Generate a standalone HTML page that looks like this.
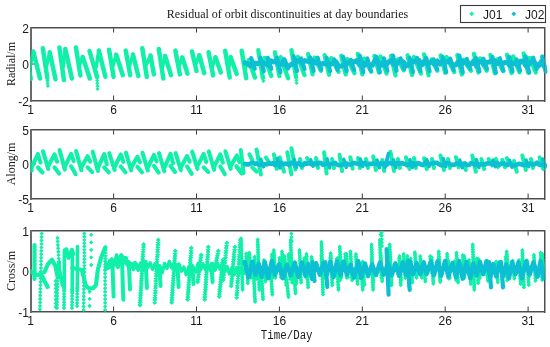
<!DOCTYPE html>
<html><head><meta charset="utf-8">
<style>
html,body{margin:0;padding:0;background:#fff;width:550px;height:347px;overflow:hidden}
svg{display:block}
.t{font-family:"Liberation Sans",Arial,sans-serif;font-size:12px;fill:#1a1a1a}
.s{font-family:"Liberation Serif","Times New Roman",serif;fill:#1a1a1a}
.m{font-family:"Liberation Mono","Courier New",monospace;fill:#1a1a1a}
</style></head><body>
<svg width="550" height="347" viewBox="0 0 550 347">
<rect width="550" height="347" fill="#fff"/>
<g shape-rendering="crispEdges">
<rect x="30" y="27" width="516" height="1" fill="#4d4d4d"/>
<rect x="32" y="28" width="512" height="1" fill="#a8a8a8"/>
<rect x="30" y="100" width="516" height="1" fill="#4d4d4d"/>
<rect x="32" y="101" width="514" height="1" fill="#a8a8a8"/>
<rect x="30" y="27" width="2" height="75" fill="#6a6a6a"/>
<rect x="544" y="27" width="1" height="75" fill="#4d4d4d"/>
<rect x="545" y="27" width="1" height="75" fill="#a8a8a8"/>
<rect x="30" y="129" width="516" height="1" fill="#4d4d4d"/>
<rect x="32" y="130" width="512" height="1" fill="#a8a8a8"/>
<rect x="30" y="198" width="516" height="1" fill="#4d4d4d"/>
<rect x="32" y="199" width="514" height="1" fill="#a8a8a8"/>
<rect x="30" y="129" width="2" height="71" fill="#6a6a6a"/>
<rect x="544" y="129" width="1" height="71" fill="#4d4d4d"/>
<rect x="545" y="129" width="1" height="71" fill="#a8a8a8"/>
<rect x="30" y="230" width="516" height="1" fill="#4d4d4d"/>
<rect x="32" y="231" width="512" height="1" fill="#a8a8a8"/>
<rect x="30" y="311" width="516" height="1" fill="#4d4d4d"/>
<rect x="32" y="312" width="514" height="1" fill="#a8a8a8"/>
<rect x="30" y="230" width="2" height="83" fill="#6a6a6a"/>
<rect x="544" y="230" width="1" height="83" fill="#4d4d4d"/>
<rect x="545" y="230" width="1" height="83" fill="#a8a8a8"/>
</g>
<g stroke="#3a3a3a" stroke-width="1" fill="none">
<path d="M113.6 100.5 V95.5M113.6 27.5 V32.5"/>
<path d="M196.5 100.5 V95.5M196.5 27.5 V32.5"/>
<path d="M279.4 100.5 V95.5M279.4 27.5 V32.5"/>
<path d="M362.3 100.5 V95.5M362.3 27.5 V32.5"/>
<path d="M445.2 100.5 V95.5M445.2 27.5 V32.5"/>
<path d="M528.1 100.5 V95.5M528.1 27.5 V32.5"/>
<path d="M31 64.0 H36M544 64.0 H539"/>
<path d="M113.6 198.5 V193.5M113.6 129.5 V134.5"/>
<path d="M196.5 198.5 V193.5M196.5 129.5 V134.5"/>
<path d="M279.4 198.5 V193.5M279.4 129.5 V134.5"/>
<path d="M362.3 198.5 V193.5M362.3 129.5 V134.5"/>
<path d="M445.2 198.5 V193.5M445.2 129.5 V134.5"/>
<path d="M528.1 198.5 V193.5M528.1 129.5 V134.5"/>
<path d="M31 164.0 H36M544 164.0 H539"/>
<path d="M113.6 311.5 V306.5M113.6 230.5 V235.5"/>
<path d="M196.5 311.5 V306.5M196.5 230.5 V235.5"/>
<path d="M279.4 311.5 V306.5M279.4 230.5 V235.5"/>
<path d="M362.3 311.5 V306.5M362.3 230.5 V235.5"/>
<path d="M445.2 311.5 V306.5M445.2 230.5 V235.5"/>
<path d="M528.1 311.5 V306.5M528.1 230.5 V235.5"/>
<path d="M31 271.0 H36M544 271.0 H539"/>
</g>
<g id="data"><defs><clipPath id="c1"><rect x="30" y="27" width="517.5" height="75"/></clipPath><clipPath id="c2"><rect x="30" y="129" width="517.5" height="71"/></clipPath><clipPath id="c3"><rect x="30" y="230" width="517.5" height="83"/></clipPath></defs>
<g clip-path="url(#c1)">
<polyline points="26.2,50.0 30.7,79.0" fill="none" stroke="#10f0a8" stroke-width="4.5" stroke-linejoin="round" stroke-linecap="round"/>
<polyline points="33.3,51.5 40.0,78.5" fill="none" stroke="#10f0a8" stroke-width="4.5" stroke-linejoin="round" stroke-linecap="round"/>
<polyline points="29.9,67.5 33.3,51.5" fill="none" stroke="#10f0a8" stroke-width="3.6" stroke-linejoin="round" stroke-linecap="round"/>
<polyline points="42.8,48.2 47.3,78.0" fill="none" stroke="#10f0a8" stroke-width="4.5" stroke-linejoin="round" stroke-linecap="round"/>
<polyline points="49.7,52.3 55.5,79.3" fill="none" stroke="#10f0a8" stroke-width="4.5" stroke-linejoin="round" stroke-linecap="round"/>
<polyline points="46.5,66.1 49.7,52.3" fill="none" stroke="#10f0a8" stroke-width="3.6" stroke-linejoin="round" stroke-linecap="round"/>
<path d="M47.0 70.9L49.1 73.0L47.0 75.1L44.9 73.0ZM47.2 73.5L49.3 75.6L47.2 77.7L45.1 75.6ZM47.3 76.1L49.4 78.2L47.3 80.3L45.2 78.2ZM47.5 78.7L49.6 80.8L47.5 82.9L45.4 80.8ZM47.7 81.3L49.8 83.4L47.7 85.5L45.6 83.4ZM47.9 83.9L50.0 86.0L47.9 88.1L45.8 86.0Z" fill="#10f0a8"/>
<polyline points="59.4,47.4 63.9,80.0" fill="none" stroke="#10f0a8" stroke-width="4.5" stroke-linejoin="round" stroke-linecap="round"/>
<polyline points="65.3,49.0 71.9,78.5" fill="none" stroke="#10f0a8" stroke-width="4.5" stroke-linejoin="round" stroke-linecap="round"/>
<polyline points="63.1,66.7 65.3,49.0" fill="none" stroke="#10f0a8" stroke-width="3.6" stroke-linejoin="round" stroke-linecap="round"/>
<polyline points="75.9,47.4 80.4,75.5" fill="none" stroke="#10f0a8" stroke-width="4.5" stroke-linejoin="round" stroke-linecap="round"/>
<polyline points="82.7,57.0 89.8,78.5" fill="none" stroke="#10f0a8" stroke-width="4.5" stroke-linejoin="round" stroke-linecap="round"/>
<polyline points="79.6,64.5 82.7,57.0" fill="none" stroke="#10f0a8" stroke-width="3.6" stroke-linejoin="round" stroke-linecap="round"/>
<polyline points="89.5,51.0 97.0,77.0" fill="none" stroke="#10f0a8" stroke-width="4.5" stroke-linejoin="round" stroke-linecap="round"/>
<polyline points="98.8,50.6 105.4,76.8" fill="none" stroke="#10f0a8" stroke-width="4.5" stroke-linejoin="round" stroke-linecap="round"/>
<polyline points="96.2,67.0 98.8,50.6" fill="none" stroke="#10f0a8" stroke-width="3.6" stroke-linejoin="round" stroke-linecap="round"/>
<path d="M96.7 69.9L98.8 72.0L96.7 74.1L94.6 72.0ZM96.9 72.7L99.0 74.8L96.9 76.9L94.8 74.8ZM97.0 75.6L99.1 77.7L97.0 79.8L94.9 77.7ZM97.2 78.4L99.3 80.5L97.2 82.6L95.1 80.5ZM97.3 81.2L99.4 83.3L97.3 85.4L95.2 83.3ZM97.5 84.1L99.6 86.2L97.5 88.3L95.4 86.2ZM97.6 86.9L99.7 89.0L97.6 91.1L95.5 89.0Z" fill="#10f0a8"/>
<polyline points="109.1,49.8 113.6,76.8" fill="none" stroke="#10f0a8" stroke-width="4.5" stroke-linejoin="round" stroke-linecap="round"/>
<polyline points="116.2,54.7 122.8,75.2" fill="none" stroke="#10f0a8" stroke-width="4.5" stroke-linejoin="round" stroke-linecap="round"/>
<polyline points="112.8,66.3 116.2,54.7" fill="none" stroke="#10f0a8" stroke-width="3.6" stroke-linejoin="round" stroke-linecap="round"/>
<polyline points="125.7,50.6 130.2,75.2" fill="none" stroke="#10f0a8" stroke-width="4.5" stroke-linejoin="round" stroke-linecap="round"/>
<polyline points="133.0,54.5 138.3,76.0" fill="none" stroke="#10f0a8" stroke-width="4.5" stroke-linejoin="round" stroke-linecap="round"/>
<polyline points="129.4,65.9 133.0,54.5" fill="none" stroke="#10f0a8" stroke-width="3.6" stroke-linejoin="round" stroke-linecap="round"/>
<polyline points="142.3,48.2 146.8,76.8" fill="none" stroke="#10f0a8" stroke-width="4.5" stroke-linejoin="round" stroke-linecap="round"/>
<polyline points="150.5,55.5 153.9,74.4" fill="none" stroke="#10f0a8" stroke-width="4.5" stroke-linejoin="round" stroke-linecap="round"/>
<polyline points="146.0,65.5 150.5,55.5" fill="none" stroke="#10f0a8" stroke-width="3.6" stroke-linejoin="round" stroke-linecap="round"/>
<polyline points="158.8,49.0 163.3,78.5" fill="none" stroke="#10f0a8" stroke-width="4.5" stroke-linejoin="round" stroke-linecap="round"/>
<polyline points="165.1,56.0 171.0,75.2" fill="none" stroke="#10f0a8" stroke-width="4.5" stroke-linejoin="round" stroke-linecap="round"/>
<polyline points="162.5,66.8 165.1,56.0" fill="none" stroke="#10f0a8" stroke-width="3.6" stroke-linejoin="round" stroke-linecap="round"/>
<polyline points="175.4,50.6 179.9,74.4" fill="none" stroke="#10f0a8" stroke-width="4.5" stroke-linejoin="round" stroke-linecap="round"/>
<polyline points="182.3,57.5 187.5,73.6" fill="none" stroke="#10f0a8" stroke-width="4.5" stroke-linejoin="round" stroke-linecap="round"/>
<polyline points="179.1,65.5 182.3,57.5" fill="none" stroke="#10f0a8" stroke-width="3.6" stroke-linejoin="round" stroke-linecap="round"/>
<polyline points="192.0,51.5 196.5,71.0" fill="none" stroke="#10f0a8" stroke-width="4.5" stroke-linejoin="round" stroke-linecap="round"/>
<polyline points="199.3,55.2 204.2,73.2" fill="none" stroke="#10f0a8" stroke-width="4.5" stroke-linejoin="round" stroke-linecap="round"/>
<polyline points="195.7,64.2 199.3,55.2" fill="none" stroke="#10f0a8" stroke-width="3.6" stroke-linejoin="round" stroke-linecap="round"/>
<polyline points="208.6,52.3 213.1,75.4" fill="none" stroke="#10f0a8" stroke-width="4.5" stroke-linejoin="round" stroke-linecap="round"/>
<polyline points="215.5,57.3 220.8,72.5" fill="none" stroke="#10f0a8" stroke-width="4.5" stroke-linejoin="round" stroke-linecap="round"/>
<polyline points="212.3,66.8 215.5,57.3" fill="none" stroke="#10f0a8" stroke-width="3.6" stroke-linejoin="round" stroke-linecap="round"/>
<polyline points="225.2,50.8 229.7,77.5" fill="none" stroke="#10f0a8" stroke-width="4.5" stroke-linejoin="round" stroke-linecap="round"/>
<polyline points="230.6,57.0 236.7,73.9" fill="none" stroke="#10f0a8" stroke-width="4.5" stroke-linejoin="round" stroke-linecap="round"/>
<polyline points="228.9,67.2 230.6,57.0" fill="none" stroke="#10f0a8" stroke-width="3.6" stroke-linejoin="round" stroke-linecap="round"/>
<polyline points="241.7,50.8 246.2,78.2" fill="none" stroke="#10f0a8" stroke-width="4.5" stroke-linejoin="round" stroke-linecap="round"/>
<polyline points="248.9,60.2 254.9,77.5" fill="none" stroke="#10f0a8" stroke-width="4.5" stroke-linejoin="round" stroke-linecap="round"/>
<polyline points="245.4,67.5 248.9,60.2" fill="none" stroke="#10f0a8" stroke-width="3.6" stroke-linejoin="round" stroke-linecap="round"/>
<polyline points="258.3,50.1 262.8,78.0" fill="none" stroke="#10f0a8" stroke-width="4.3" stroke-linejoin="round" stroke-linecap="round"/>
<polyline points="264.6,58.0 271.3,76.0" fill="none" stroke="#10f0a8" stroke-width="4.3" stroke-linejoin="round" stroke-linecap="round"/>
<polyline points="262.0,67.0 264.6,58.0" fill="none" stroke="#10f0a8" stroke-width="3.6" stroke-linejoin="round" stroke-linecap="round"/>
<path d="M262.5 70.9L264.6 73.0L262.5 75.1L260.4 73.0ZM262.8 73.6L264.9 75.7L262.8 77.8L260.7 75.7ZM263.1 76.2L265.2 78.3L263.1 80.4L261.0 78.3ZM263.4 78.9L265.5 81.0L263.4 83.1L261.3 81.0Z" fill="#10f0a8"/>
<polyline points="274.9,52.3 279.4,76.1" fill="none" stroke="#10f0a8" stroke-width="4.3" stroke-linejoin="round" stroke-linecap="round"/>
<polyline points="280.6,57.3 288.1,78.2" fill="none" stroke="#10f0a8" stroke-width="4.3" stroke-linejoin="round" stroke-linecap="round"/>
<polyline points="278.6,67.2 280.6,57.3" fill="none" stroke="#10f0a8" stroke-width="3.6" stroke-linejoin="round" stroke-linecap="round"/>
<polyline points="291.5,50.1 296.0,77.0" fill="none" stroke="#10f0a8" stroke-width="4.3" stroke-linejoin="round" stroke-linecap="round"/>
<polyline points="297.8,57.0 304.5,75.0" fill="none" stroke="#10f0a8" stroke-width="4.3" stroke-linejoin="round" stroke-linecap="round"/>
<polyline points="295.2,66.5 297.8,57.0" fill="none" stroke="#10f0a8" stroke-width="3.6" stroke-linejoin="round" stroke-linecap="round"/>
<path d="M295.7 69.9L297.8 72.0L295.7 74.1L293.6 72.0ZM295.9 72.7L298.0 74.8L295.9 76.8L293.8 74.8ZM296.1 75.4L298.2 77.5L296.1 79.6L294.0 77.5ZM296.4 78.2L298.5 80.2L296.4 82.3L294.3 80.2ZM296.6 80.9L298.7 83.0L296.6 85.1L294.5 83.0Z" fill="#10f0a8"/>
<polyline points="308.1,54.0 312.6,74.3" fill="none" stroke="#10f0a8" stroke-width="4.3" stroke-linejoin="round" stroke-linecap="round"/>
<polyline points="314.8,57.7 321.0,70.7" fill="none" stroke="#10f0a8" stroke-width="4.3" stroke-linejoin="round" stroke-linecap="round"/>
<polyline points="311.8,67.1 314.8,57.7" fill="none" stroke="#10f0a8" stroke-width="3.6" stroke-linejoin="round" stroke-linecap="round"/>
<polyline points="324.6,55.2 329.1,74.7" fill="none" stroke="#10f0a8" stroke-width="4.3" stroke-linejoin="round" stroke-linecap="round"/>
<polyline points="331.2,58.3 338.6,71.8" fill="none" stroke="#10f0a8" stroke-width="4.3" stroke-linejoin="round" stroke-linecap="round"/>
<polyline points="328.3,68.0 331.2,58.3" fill="none" stroke="#10f0a8" stroke-width="3.6" stroke-linejoin="round" stroke-linecap="round"/>
<polyline points="341.2,55.8 345.7,74.4" fill="none" stroke="#10f0a8" stroke-width="4.3" stroke-linejoin="round" stroke-linecap="round"/>
<polyline points="347.5,59.2 354.5,73.2" fill="none" stroke="#10f0a8" stroke-width="4.3" stroke-linejoin="round" stroke-linecap="round"/>
<polyline points="344.9,68.1 347.5,59.2" fill="none" stroke="#10f0a8" stroke-width="3.6" stroke-linejoin="round" stroke-linecap="round"/>
<polyline points="357.8,53.9 362.3,74.4" fill="none" stroke="#10f0a8" stroke-width="4.3" stroke-linejoin="round" stroke-linecap="round"/>
<polyline points="364.0,58.7 371.4,71.7" fill="none" stroke="#10f0a8" stroke-width="4.3" stroke-linejoin="round" stroke-linecap="round"/>
<polyline points="361.5,67.2 364.0,58.7" fill="none" stroke="#10f0a8" stroke-width="3.6" stroke-linejoin="round" stroke-linecap="round"/>
<polyline points="374.4,55.9 378.9,72.5" fill="none" stroke="#10f0a8" stroke-width="4.3" stroke-linejoin="round" stroke-linecap="round"/>
<polyline points="380.5,56.6 386.6,73.5" fill="none" stroke="#10f0a8" stroke-width="4.3" stroke-linejoin="round" stroke-linecap="round"/>
<polyline points="378.1,67.2 380.5,56.6" fill="none" stroke="#10f0a8" stroke-width="3.6" stroke-linejoin="round" stroke-linecap="round"/>
<polyline points="391.0,55.8 395.5,75.3" fill="none" stroke="#10f0a8" stroke-width="4.3" stroke-linejoin="round" stroke-linecap="round"/>
<polyline points="397.9,59.6 403.8,70.3" fill="none" stroke="#10f0a8" stroke-width="4.3" stroke-linejoin="round" stroke-linecap="round"/>
<polyline points="394.7,68.6 397.9,59.6" fill="none" stroke="#10f0a8" stroke-width="3.6" stroke-linejoin="round" stroke-linecap="round"/>
<polyline points="407.5,55.3 412.0,74.9" fill="none" stroke="#10f0a8" stroke-width="4.3" stroke-linejoin="round" stroke-linecap="round"/>
<polyline points="413.7,57.1 420.9,73.5" fill="none" stroke="#10f0a8" stroke-width="4.3" stroke-linejoin="round" stroke-linecap="round"/>
<polyline points="411.2,68.1 413.7,57.1" fill="none" stroke="#10f0a8" stroke-width="3.6" stroke-linejoin="round" stroke-linecap="round"/>
<polyline points="424.1,54.4 428.6,75.2" fill="none" stroke="#10f0a8" stroke-width="4.3" stroke-linejoin="round" stroke-linecap="round"/>
<polyline points="431.7,59.5 437.4,70.7" fill="none" stroke="#10f0a8" stroke-width="4.3" stroke-linejoin="round" stroke-linecap="round"/>
<polyline points="427.8,67.8 431.7,59.5" fill="none" stroke="#10f0a8" stroke-width="3.6" stroke-linejoin="round" stroke-linecap="round"/>
<polyline points="440.7,55.4 445.2,72.7" fill="none" stroke="#10f0a8" stroke-width="4.3" stroke-linejoin="round" stroke-linecap="round"/>
<polyline points="446.6,57.2 454.3,72.1" fill="none" stroke="#10f0a8" stroke-width="4.3" stroke-linejoin="round" stroke-linecap="round"/>
<polyline points="444.4,67.0 446.6,57.2" fill="none" stroke="#10f0a8" stroke-width="3.6" stroke-linejoin="round" stroke-linecap="round"/>
<polyline points="457.3,55.1 461.8,74.5" fill="none" stroke="#10f0a8" stroke-width="4.3" stroke-linejoin="round" stroke-linecap="round"/>
<polyline points="463.2,59.8 470.9,70.7" fill="none" stroke="#10f0a8" stroke-width="4.3" stroke-linejoin="round" stroke-linecap="round"/>
<polyline points="461.0,67.8 463.2,59.8" fill="none" stroke="#10f0a8" stroke-width="3.6" stroke-linejoin="round" stroke-linecap="round"/>
<polyline points="473.9,53.8 478.4,72.5" fill="none" stroke="#10f0a8" stroke-width="4.3" stroke-linejoin="round" stroke-linecap="round"/>
<polyline points="479.9,58.6 486.8,70.6" fill="none" stroke="#10f0a8" stroke-width="4.3" stroke-linejoin="round" stroke-linecap="round"/>
<polyline points="477.6,66.1 479.9,58.6" fill="none" stroke="#10f0a8" stroke-width="3.6" stroke-linejoin="round" stroke-linecap="round"/>
<polyline points="490.4,54.9 494.9,73.2" fill="none" stroke="#10f0a8" stroke-width="4.3" stroke-linejoin="round" stroke-linecap="round"/>
<polyline points="497.3,59.5 503.1,71.0" fill="none" stroke="#10f0a8" stroke-width="4.3" stroke-linejoin="round" stroke-linecap="round"/>
<polyline points="494.1,67.0 497.3,59.5" fill="none" stroke="#10f0a8" stroke-width="3.6" stroke-linejoin="round" stroke-linecap="round"/>
<polyline points="507.0,54.8 511.5,73.0" fill="none" stroke="#10f0a8" stroke-width="4.3" stroke-linejoin="round" stroke-linecap="round"/>
<polyline points="513.2,56.6 519.5,72.3" fill="none" stroke="#10f0a8" stroke-width="4.3" stroke-linejoin="round" stroke-linecap="round"/>
<polyline points="510.7,66.9 513.2,56.6" fill="none" stroke="#10f0a8" stroke-width="3.6" stroke-linejoin="round" stroke-linecap="round"/>
<polyline points="523.6,53.5 528.1,72.4" fill="none" stroke="#10f0a8" stroke-width="4.3" stroke-linejoin="round" stroke-linecap="round"/>
<polyline points="529.7,57.9 535.8,72.4" fill="none" stroke="#10f0a8" stroke-width="4.3" stroke-linejoin="round" stroke-linecap="round"/>
<polyline points="527.3,66.0 529.7,57.9" fill="none" stroke="#10f0a8" stroke-width="3.6" stroke-linejoin="round" stroke-linecap="round"/>
<polyline points="245.0,62.9 247.6,63.6 250.2,65.7 252.8,63.0 255.4,63.2 258.0,63.7 260.6,61.3 263.2,63.3 265.8,64.0 268.4,65.0 271.0,60.8 273.6,62.0 276.2,60.7 278.8,65.1 281.4,64.4 284.0,60.5 286.6,66.1 289.2,66.0 291.8,64.1 294.4,63.9 297.0,61.1 299.6,60.3 302.2,63.4 304.8,60.6 307.4,61.3 310.0,61.7 312.6,60.4 315.2,63.0 317.8,62.8 320.4,65.3 323.0,63.3 325.6,64.0 328.2,63.2 330.8,64.2 333.4,62.9 336.0,61.9 338.6,66.2 341.2,66.2 343.8,65.2 346.4,64.4 349.0,62.1 351.6,61.6 354.2,61.9 356.8,60.6 359.4,64.8 362.0,62.6 364.6,65.3 367.2,62.5 369.8,65.9 372.4,65.3 375.0,60.2 377.6,61.5 380.2,65.7 382.8,63.0 385.4,66.1 388.0,62.6 390.6,60.6 393.2,64.0 395.8,64.9 398.4,61.8 401.0,60.7 403.6,62.2 406.2,66.0 408.8,64.7 411.4,60.9 414.0,61.7 416.6,60.8 419.2,60.6 421.8,65.0 424.4,61.3 427.0,63.6 429.6,62.9 432.2,61.3 434.8,64.6 437.4,61.0 440.0,64.1 442.6,60.9 445.2,62.7 447.8,61.5 450.4,61.8 453.0,66.0 455.6,65.0 458.2,62.0 460.8,65.5 463.4,61.5 466.0,62.6 468.6,65.3 471.2,64.1 473.8,60.8 476.4,66.1 479.0,61.5 481.6,61.7 484.2,64.8 486.8,62.2 489.4,62.0 492.0,60.6 494.6,60.7 497.2,63.7 499.8,61.7 502.4,63.8 505.0,62.4 507.6,62.9 510.2,66.0 512.8,63.1 515.4,63.6 518.0,65.4 520.6,61.3 523.2,61.1 525.8,65.7 528.4,65.1 531.0,61.7 533.6,61.3 536.2,64.6 538.8,65.8 541.4,61.4 544.0,65.9" fill="none" stroke="#0cbfd2" stroke-width="5" stroke-linejoin="round" stroke-linecap="round"/>
<polyline points="251.2,58.1 254.7,68.7" fill="none" stroke="#0cbfd2" stroke-width="4.2" stroke-linejoin="round" stroke-linecap="round"/>
<polyline points="260.3,57.7 263.8,71.1" fill="none" stroke="#0cbfd2" stroke-width="4.2" stroke-linejoin="round" stroke-linecap="round"/>
<polyline points="267.8,57.8 271.3,68.8" fill="none" stroke="#0cbfd2" stroke-width="4.2" stroke-linejoin="round" stroke-linecap="round"/>
<polyline points="276.9,57.6 280.4,72.3" fill="none" stroke="#0cbfd2" stroke-width="4.2" stroke-linejoin="round" stroke-linecap="round"/>
<polyline points="284.4,59.3 287.9,68.5" fill="none" stroke="#0cbfd2" stroke-width="4.2" stroke-linejoin="round" stroke-linecap="round"/>
<polyline points="293.5,56.1 297.0,71.0" fill="none" stroke="#0cbfd2" stroke-width="4.2" stroke-linejoin="round" stroke-linecap="round"/>
<polyline points="301.0,58.5 304.5,68.9" fill="none" stroke="#0cbfd2" stroke-width="4.2" stroke-linejoin="round" stroke-linecap="round"/>
<polyline points="310.1,57.3 313.6,71.0" fill="none" stroke="#0cbfd2" stroke-width="4.2" stroke-linejoin="round" stroke-linecap="round"/>
<polyline points="317.6,57.7 321.1,69.4" fill="none" stroke="#0cbfd2" stroke-width="4.2" stroke-linejoin="round" stroke-linecap="round"/>
<polyline points="326.6,57.8 330.1,71.0" fill="none" stroke="#0cbfd2" stroke-width="4.2" stroke-linejoin="round" stroke-linecap="round"/>
<polyline points="334.1,59.5 337.6,69.8" fill="none" stroke="#0cbfd2" stroke-width="4.2" stroke-linejoin="round" stroke-linecap="round"/>
<polyline points="343.2,56.8 346.7,71.1" fill="none" stroke="#0cbfd2" stroke-width="4.2" stroke-linejoin="round" stroke-linecap="round"/>
<polyline points="350.7,59.9 354.2,70.1" fill="none" stroke="#0cbfd2" stroke-width="4.2" stroke-linejoin="round" stroke-linecap="round"/>
<polyline points="359.8,55.7 363.3,72.3" fill="none" stroke="#0cbfd2" stroke-width="4.2" stroke-linejoin="round" stroke-linecap="round"/>
<polyline points="367.3,58.5 370.8,70.8" fill="none" stroke="#0cbfd2" stroke-width="4.2" stroke-linejoin="round" stroke-linecap="round"/>
<polyline points="376.4,56.8 379.9,72.3" fill="none" stroke="#0cbfd2" stroke-width="4.2" stroke-linejoin="round" stroke-linecap="round"/>
<polyline points="383.9,58.3 387.4,70.8" fill="none" stroke="#0cbfd2" stroke-width="4.2" stroke-linejoin="round" stroke-linecap="round"/>
<polyline points="393.0,55.6 396.5,70.8" fill="none" stroke="#0cbfd2" stroke-width="4.2" stroke-linejoin="round" stroke-linecap="round"/>
<polyline points="400.5,58.5 404.0,68.8" fill="none" stroke="#0cbfd2" stroke-width="4.2" stroke-linejoin="round" stroke-linecap="round"/>
<polyline points="409.5,57.9 413.0,72.1" fill="none" stroke="#0cbfd2" stroke-width="4.2" stroke-linejoin="round" stroke-linecap="round"/>
<polyline points="417.0,57.9 420.5,70.9" fill="none" stroke="#0cbfd2" stroke-width="4.2" stroke-linejoin="round" stroke-linecap="round"/>
<polyline points="426.1,57.8 429.6,71.2" fill="none" stroke="#0cbfd2" stroke-width="4.2" stroke-linejoin="round" stroke-linecap="round"/>
<polyline points="433.6,59.5 437.1,69.3" fill="none" stroke="#0cbfd2" stroke-width="4.2" stroke-linejoin="round" stroke-linecap="round"/>
<polyline points="442.7,56.9 446.2,72.2" fill="none" stroke="#0cbfd2" stroke-width="4.2" stroke-linejoin="round" stroke-linecap="round"/>
<polyline points="450.2,58.6 453.7,70.1" fill="none" stroke="#0cbfd2" stroke-width="4.2" stroke-linejoin="round" stroke-linecap="round"/>
<polyline points="459.3,55.6 462.8,72.4" fill="none" stroke="#0cbfd2" stroke-width="4.2" stroke-linejoin="round" stroke-linecap="round"/>
<polyline points="466.8,58.9 470.3,68.7" fill="none" stroke="#0cbfd2" stroke-width="4.2" stroke-linejoin="round" stroke-linecap="round"/>
<polyline points="475.9,57.9 479.4,71.2" fill="none" stroke="#0cbfd2" stroke-width="4.2" stroke-linejoin="round" stroke-linecap="round"/>
<polyline points="483.4,58.8 486.9,68.8" fill="none" stroke="#0cbfd2" stroke-width="4.2" stroke-linejoin="round" stroke-linecap="round"/>
<polyline points="492.4,57.0 495.9,72.8" fill="none" stroke="#0cbfd2" stroke-width="4.2" stroke-linejoin="round" stroke-linecap="round"/>
<polyline points="499.9,58.2 503.4,70.7" fill="none" stroke="#0cbfd2" stroke-width="4.2" stroke-linejoin="round" stroke-linecap="round"/>
<polyline points="509.0,56.8 512.5,71.3" fill="none" stroke="#0cbfd2" stroke-width="4.2" stroke-linejoin="round" stroke-linecap="round"/>
<polyline points="516.5,59.4 520.0,70.5" fill="none" stroke="#0cbfd2" stroke-width="4.2" stroke-linejoin="round" stroke-linecap="round"/>
<polyline points="525.6,56.3 529.1,72.8" fill="none" stroke="#0cbfd2" stroke-width="4.2" stroke-linejoin="round" stroke-linecap="round"/>
<polyline points="533.1,57.7 536.6,69.2" fill="none" stroke="#0cbfd2" stroke-width="4.2" stroke-linejoin="round" stroke-linecap="round"/>
<polyline points="542.2,56.5 545.7,71.7" fill="none" stroke="#0cbfd2" stroke-width="4.2" stroke-linejoin="round" stroke-linecap="round"/>
<polyline points="549.7,59.7 553.2,70.7" fill="none" stroke="#0cbfd2" stroke-width="4.2" stroke-linejoin="round" stroke-linecap="round"/>
</g>
<g clip-path="url(#c2)">
<polyline points="26.4,151.7 31.7,170.4" fill="none" stroke="#10f0a8" stroke-width="4.1" stroke-linejoin="round" stroke-linecap="round"/>
<polyline points="31.2,168.4 37.9,154.0 40.5,162.5" fill="none" stroke="#10f0a8" stroke-width="4.1" stroke-linejoin="round" stroke-linecap="round"/>
<polyline points="37.9,167.5 42.5,172.5" fill="none" stroke="#10f0a8" stroke-width="4.1" stroke-linejoin="round" stroke-linecap="round"/>
<polyline points="43.0,151.3 48.3,169.0" fill="none" stroke="#10f0a8" stroke-width="4.1" stroke-linejoin="round" stroke-linecap="round"/>
<polyline points="47.8,167.0 54.5,154.4 57.1,161.7" fill="none" stroke="#10f0a8" stroke-width="4.1" stroke-linejoin="round" stroke-linecap="round"/>
<polyline points="54.5,167.5 59.1,173.6" fill="none" stroke="#10f0a8" stroke-width="4.1" stroke-linejoin="round" stroke-linecap="round"/>
<polyline points="59.6,150.1 64.9,169.6" fill="none" stroke="#10f0a8" stroke-width="4.1" stroke-linejoin="round" stroke-linecap="round"/>
<polyline points="64.4,167.6 71.1,153.8 73.7,161.1" fill="none" stroke="#10f0a8" stroke-width="4.1" stroke-linejoin="round" stroke-linecap="round"/>
<polyline points="71.1,166.3 75.7,174.2" fill="none" stroke="#10f0a8" stroke-width="4.1" stroke-linejoin="round" stroke-linecap="round"/>
<polyline points="76.1,151.1 81.4,170.2" fill="none" stroke="#10f0a8" stroke-width="4.1" stroke-linejoin="round" stroke-linecap="round"/>
<polyline points="80.9,168.2 87.6,156.2 90.2,161.6" fill="none" stroke="#10f0a8" stroke-width="4.1" stroke-linejoin="round" stroke-linecap="round"/>
<polyline points="87.6,167.4 92.2,172.1" fill="none" stroke="#10f0a8" stroke-width="4.1" stroke-linejoin="round" stroke-linecap="round"/>
<polyline points="92.7,151.7 98.0,171.0" fill="none" stroke="#10f0a8" stroke-width="4.1" stroke-linejoin="round" stroke-linecap="round"/>
<polyline points="97.5,169.0 104.2,154.1 106.8,164.2" fill="none" stroke="#10f0a8" stroke-width="4.1" stroke-linejoin="round" stroke-linecap="round"/>
<polyline points="104.2,167.3 108.8,172.4" fill="none" stroke="#10f0a8" stroke-width="4.1" stroke-linejoin="round" stroke-linecap="round"/>
<polyline points="109.3,153.3 114.6,170.0" fill="none" stroke="#10f0a8" stroke-width="4.1" stroke-linejoin="round" stroke-linecap="round"/>
<polyline points="114.1,168.0 120.8,154.5 123.4,161.9" fill="none" stroke="#10f0a8" stroke-width="4.1" stroke-linejoin="round" stroke-linecap="round"/>
<polyline points="120.8,166.5 125.4,172.3" fill="none" stroke="#10f0a8" stroke-width="4.1" stroke-linejoin="round" stroke-linecap="round"/>
<polyline points="125.9,152.6 131.2,170.4" fill="none" stroke="#10f0a8" stroke-width="4.1" stroke-linejoin="round" stroke-linecap="round"/>
<polyline points="130.7,168.4 137.4,156.8 140.0,162.4" fill="none" stroke="#10f0a8" stroke-width="4.1" stroke-linejoin="round" stroke-linecap="round"/>
<polyline points="137.4,166.7 142.0,172.2" fill="none" stroke="#10f0a8" stroke-width="4.1" stroke-linejoin="round" stroke-linecap="round"/>
<polyline points="142.5,152.8 147.8,170.5" fill="none" stroke="#10f0a8" stroke-width="4.1" stroke-linejoin="round" stroke-linecap="round"/>
<polyline points="147.3,168.5 154.0,155.0 156.6,161.3" fill="none" stroke="#10f0a8" stroke-width="4.1" stroke-linejoin="round" stroke-linecap="round"/>
<polyline points="154.0,165.8 158.6,172.6" fill="none" stroke="#10f0a8" stroke-width="4.1" stroke-linejoin="round" stroke-linecap="round"/>
<polyline points="159.0,153.2 164.3,171.2" fill="none" stroke="#10f0a8" stroke-width="4.1" stroke-linejoin="round" stroke-linecap="round"/>
<polyline points="163.8,169.2 170.5,153.8 173.1,163.3" fill="none" stroke="#10f0a8" stroke-width="4.1" stroke-linejoin="round" stroke-linecap="round"/>
<polyline points="170.5,165.9 175.1,171.9" fill="none" stroke="#10f0a8" stroke-width="4.1" stroke-linejoin="round" stroke-linecap="round"/>
<polyline points="175.6,153.1 180.9,170.2" fill="none" stroke="#10f0a8" stroke-width="4.1" stroke-linejoin="round" stroke-linecap="round"/>
<polyline points="180.4,168.2 187.1,156.1 189.7,161.6" fill="none" stroke="#10f0a8" stroke-width="4.1" stroke-linejoin="round" stroke-linecap="round"/>
<polyline points="187.1,166.5 191.7,173.8" fill="none" stroke="#10f0a8" stroke-width="4.1" stroke-linejoin="round" stroke-linecap="round"/>
<polyline points="192.2,151.6 197.5,168.9" fill="none" stroke="#10f0a8" stroke-width="4.1" stroke-linejoin="round" stroke-linecap="round"/>
<polyline points="197.0,166.9 203.7,154.0 206.3,162.1" fill="none" stroke="#10f0a8" stroke-width="4.1" stroke-linejoin="round" stroke-linecap="round"/>
<polyline points="203.7,167.4 208.3,172.1" fill="none" stroke="#10f0a8" stroke-width="4.1" stroke-linejoin="round" stroke-linecap="round"/>
<polyline points="208.8,151.4 214.1,169.8" fill="none" stroke="#10f0a8" stroke-width="4.1" stroke-linejoin="round" stroke-linecap="round"/>
<polyline points="213.6,167.8 220.3,154.3 222.9,162.6" fill="none" stroke="#10f0a8" stroke-width="4.1" stroke-linejoin="round" stroke-linecap="round"/>
<polyline points="220.3,166.5 224.9,174.3" fill="none" stroke="#10f0a8" stroke-width="4.1" stroke-linejoin="round" stroke-linecap="round"/>
<polyline points="225.4,151.3 230.7,168.9" fill="none" stroke="#10f0a8" stroke-width="4.1" stroke-linejoin="round" stroke-linecap="round"/>
<polyline points="230.2,166.9 236.9,155.5 239.5,162.1" fill="none" stroke="#10f0a8" stroke-width="4.1" stroke-linejoin="round" stroke-linecap="round"/>
<polyline points="236.9,167.2 241.5,173.3" fill="none" stroke="#10f0a8" stroke-width="4.1" stroke-linejoin="round" stroke-linecap="round"/>
<polyline points="240.8,150.0 243.6,173.0" fill="none" stroke="#10f0a8" stroke-width="4.0" stroke-linejoin="round" stroke-linecap="round"/>
<polyline points="236.4,166.0 242.2,173.1" fill="none" stroke="#10f0a8" stroke-width="4.0" stroke-linejoin="round" stroke-linecap="round"/>
<polyline points="249.4,154.4 252.3,160.2" fill="none" stroke="#10f0a8" stroke-width="4.0" stroke-linejoin="round" stroke-linecap="round"/>
<polyline points="256.6,149.4 260.9,174.6" fill="none" stroke="#10f0a8" stroke-width="4.0" stroke-linejoin="round" stroke-linecap="round"/>
<polyline points="252.3,167.4 256.6,171.7" fill="none" stroke="#10f0a8" stroke-width="4.0" stroke-linejoin="round" stroke-linecap="round"/>
<polyline points="266.0,157.5 269.5,163.5" fill="none" stroke="#10f0a8" stroke-width="4.0" stroke-linejoin="round" stroke-linecap="round"/>
<polyline points="273.9,154.4 276.8,168.8" fill="none" stroke="#10f0a8" stroke-width="4.0" stroke-linejoin="round" stroke-linecap="round"/>
<polyline points="279.7,157.3 284.0,171.7" fill="none" stroke="#10f0a8" stroke-width="4.0" stroke-linejoin="round" stroke-linecap="round"/>
<polyline points="287.3,152.3 291.4,174.4" fill="none" stroke="#10f0a8" stroke-width="4.0" stroke-linejoin="round" stroke-linecap="round"/>
<polyline points="291.4,148.2 295.5,169.5" fill="none" stroke="#10f0a8" stroke-width="4.0" stroke-linejoin="round" stroke-linecap="round"/>
<polyline points="307.0,158.0 311.0,164.5" fill="none" stroke="#10f0a8" stroke-width="4.0" stroke-linejoin="round" stroke-linecap="round"/>
<polyline points="324.1,152.3 326.6,173.6" fill="none" stroke="#10f0a8" stroke-width="4.0" stroke-linejoin="round" stroke-linecap="round"/>
<polyline points="339.6,154.7 342.1,171.1" fill="none" stroke="#10f0a8" stroke-width="4.0" stroke-linejoin="round" stroke-linecap="round"/>
<polyline points="350.3,157.2 352.7,168.6" fill="none" stroke="#10f0a8" stroke-width="4.0" stroke-linejoin="round" stroke-linecap="round"/>
<polyline points="373.2,156.4 375.9,170.0" fill="none" stroke="#10f0a8" stroke-width="4.0" stroke-linejoin="round" stroke-linecap="round"/>
<polyline points="382.3,160.0 384.1,171.0" fill="none" stroke="#10f0a8" stroke-width="4.0" stroke-linejoin="round" stroke-linecap="round"/>
<polyline points="390.5,151.8 394.0,171.0" fill="none" stroke="#10f0a8" stroke-width="4.0" stroke-linejoin="round" stroke-linecap="round"/>
<polyline points="405.9,157.3 409.5,169.0" fill="none" stroke="#10f0a8" stroke-width="4.0" stroke-linejoin="round" stroke-linecap="round"/>
<polyline points="424.1,158.2 426.8,169.0" fill="none" stroke="#10f0a8" stroke-width="4.0" stroke-linejoin="round" stroke-linecap="round"/>
<polyline points="440.5,155.5 444.0,170.0" fill="none" stroke="#10f0a8" stroke-width="4.0" stroke-linejoin="round" stroke-linecap="round"/>
<polyline points="455.9,157.3 458.6,167.3" fill="none" stroke="#10f0a8" stroke-width="4.0" stroke-linejoin="round" stroke-linecap="round"/>
<polyline points="463.2,163.6 465.9,170.0" fill="none" stroke="#10f0a8" stroke-width="4.0" stroke-linejoin="round" stroke-linecap="round"/>
<polyline points="472.3,155.5 475.9,171.8" fill="none" stroke="#10f0a8" stroke-width="4.0" stroke-linejoin="round" stroke-linecap="round"/>
<polyline points="481.4,159.0 484.1,169.0" fill="none" stroke="#10f0a8" stroke-width="4.0" stroke-linejoin="round" stroke-linecap="round"/>
<polyline points="488.6,159.0 492.3,165.5" fill="none" stroke="#10f0a8" stroke-width="4.0" stroke-linejoin="round" stroke-linecap="round"/>
<polyline points="502.3,160.0 505.0,167.3" fill="none" stroke="#10f0a8" stroke-width="4.0" stroke-linejoin="round" stroke-linecap="round"/>
<polyline points="506.8,158.2 509.5,163.6" fill="none" stroke="#10f0a8" stroke-width="4.0" stroke-linejoin="round" stroke-linecap="round"/>
<polyline points="514.0,161.0 516.8,171.8" fill="none" stroke="#10f0a8" stroke-width="4.0" stroke-linejoin="round" stroke-linecap="round"/>
<polyline points="522.3,155.5 525.9,170.0" fill="none" stroke="#10f0a8" stroke-width="4.0" stroke-linejoin="round" stroke-linecap="round"/>
<polyline points="539.5,157.3 543.2,169.0" fill="none" stroke="#10f0a8" stroke-width="4.0" stroke-linejoin="round" stroke-linecap="round"/>
<polyline points="300.0,159.0 302.0,168.0" fill="none" stroke="#10f0a8" stroke-width="4.0" stroke-linejoin="round" stroke-linecap="round"/>
<polyline points="316.0,158.0 318.0,168.0" fill="none" stroke="#10f0a8" stroke-width="4.0" stroke-linejoin="round" stroke-linecap="round"/>
<polyline points="332.0,159.0 334.0,168.0" fill="none" stroke="#10f0a8" stroke-width="4.0" stroke-linejoin="round" stroke-linecap="round"/>
<polyline points="358.0,158.0 360.0,168.0" fill="none" stroke="#10f0a8" stroke-width="4.0" stroke-linejoin="round" stroke-linecap="round"/>
<polyline points="366.0,159.0 368.0,168.0" fill="none" stroke="#10f0a8" stroke-width="4.0" stroke-linejoin="round" stroke-linecap="round"/>
<polyline points="398.0,159.0 400.0,168.0" fill="none" stroke="#10f0a8" stroke-width="4.0" stroke-linejoin="round" stroke-linecap="round"/>
<polyline points="414.0,158.0 416.0,168.0" fill="none" stroke="#10f0a8" stroke-width="4.0" stroke-linejoin="round" stroke-linecap="round"/>
<polyline points="432.0,159.0 434.0,168.0" fill="none" stroke="#10f0a8" stroke-width="4.0" stroke-linejoin="round" stroke-linecap="round"/>
<polyline points="448.0,159.0 450.0,168.0" fill="none" stroke="#10f0a8" stroke-width="4.0" stroke-linejoin="round" stroke-linecap="round"/>
<polyline points="496.0,159.0 498.0,167.0" fill="none" stroke="#10f0a8" stroke-width="4.0" stroke-linejoin="round" stroke-linecap="round"/>
<polyline points="531.0,159.0 533.0,168.0" fill="none" stroke="#10f0a8" stroke-width="4.0" stroke-linejoin="round" stroke-linecap="round"/>
<polyline points="245.0,163.9 247.0,164.4 249.0,164.4 251.0,163.1 253.0,162.7 255.0,163.7 257.0,163.4 259.0,164.8 261.0,164.5 263.0,164.3 265.0,164.2 267.0,164.4 269.0,163.1 271.0,163.8 273.0,163.1 275.0,165.1 277.0,162.9 279.0,164.8 281.0,162.9 283.0,164.5 285.0,163.6 287.0,163.8 289.0,164.9 291.0,162.7 293.0,162.9 295.0,165.1 297.0,164.0 299.0,162.9 301.0,165.3 303.0,165.2 305.0,163.0 307.0,163.8 309.0,163.1 311.0,163.5 313.0,164.3 315.0,163.1 317.0,164.5 319.0,162.8 321.0,163.1 323.0,164.8 325.0,163.7 327.0,163.8 329.0,164.2 331.0,163.9 333.0,163.7 335.0,162.8 337.0,164.6 339.0,165.2 341.0,165.2 343.0,164.4 345.0,163.6 347.0,163.6 349.0,164.5 351.0,164.5 353.0,163.0 355.0,163.3 357.0,163.6 359.0,164.0 361.0,164.8 363.0,164.0 365.0,162.8 367.0,164.8 369.0,163.8 371.0,164.0 373.0,163.3 375.0,163.8 377.0,163.7 379.0,164.7 381.0,163.0 383.0,164.1 385.0,163.2 387.0,164.5 389.0,162.8 391.0,163.4 393.0,163.6 395.0,164.4 397.0,162.8 399.0,163.9 401.0,163.2 403.0,163.4 405.0,163.9 407.0,165.2 409.0,164.0 411.0,165.2 413.0,163.1 415.0,165.1 417.0,163.6 419.0,163.2 421.0,164.6 423.0,165.1 425.0,162.7 427.0,163.4 429.0,164.7 431.0,163.6 433.0,163.3 435.0,162.7 437.0,162.8 439.0,164.3 441.0,165.3 443.0,165.3 445.0,164.0 447.0,162.8 449.0,163.5 451.0,164.7 453.0,164.9 455.0,164.4 457.0,163.3 459.0,164.1 461.0,163.9 463.0,164.3 465.0,163.4 467.0,165.2 469.0,165.0 471.0,163.1 473.0,163.5 475.0,165.0 477.0,163.4 479.0,165.2 481.0,164.0 483.0,164.5 485.0,164.5 487.0,163.3 489.0,163.4 491.0,163.4 493.0,164.5 495.0,164.5 497.0,163.0 499.0,165.0 501.0,163.8 503.0,163.3 505.0,163.8 507.0,165.2 509.0,164.2 511.0,164.3 513.0,165.1 515.0,165.2 517.0,164.7 519.0,163.8 521.0,164.2 523.0,165.0 525.0,164.8 527.0,164.2 529.0,163.6 531.0,163.7 533.0,164.6 535.0,164.2 537.0,162.7 539.0,164.5 541.0,165.0 543.0,164.8 545.0,165.0" fill="none" stroke="#0cbfd2" stroke-width="4.6" stroke-linejoin="round" stroke-linecap="round"/>
<polyline points="260.8,159.3 263.3,166.8" fill="none" stroke="#0cbfd2" stroke-width="3.6" stroke-linejoin="round" stroke-linecap="round"/>
<polyline points="277.4,158.6 279.9,167.9" fill="none" stroke="#0cbfd2" stroke-width="3.6" stroke-linejoin="round" stroke-linecap="round"/>
<polyline points="294.0,159.4 296.5,167.4" fill="none" stroke="#0cbfd2" stroke-width="3.6" stroke-linejoin="round" stroke-linecap="round"/>
<polyline points="310.6,159.9 313.1,166.1" fill="none" stroke="#0cbfd2" stroke-width="3.6" stroke-linejoin="round" stroke-linecap="round"/>
<polyline points="327.1,158.9 329.6,167.8" fill="none" stroke="#0cbfd2" stroke-width="3.6" stroke-linejoin="round" stroke-linecap="round"/>
<polyline points="343.7,159.4 346.2,167.3" fill="none" stroke="#0cbfd2" stroke-width="3.6" stroke-linejoin="round" stroke-linecap="round"/>
<polyline points="360.3,159.1 362.8,166.3" fill="none" stroke="#0cbfd2" stroke-width="3.6" stroke-linejoin="round" stroke-linecap="round"/>
<polyline points="376.9,160.2 379.4,167.6" fill="none" stroke="#0cbfd2" stroke-width="3.6" stroke-linejoin="round" stroke-linecap="round"/>
<polyline points="393.5,160.0 396.0,167.5" fill="none" stroke="#0cbfd2" stroke-width="3.6" stroke-linejoin="round" stroke-linecap="round"/>
<polyline points="410.0,159.7 412.5,167.4" fill="none" stroke="#0cbfd2" stroke-width="3.6" stroke-linejoin="round" stroke-linecap="round"/>
<polyline points="426.6,159.6 429.1,166.3" fill="none" stroke="#0cbfd2" stroke-width="3.6" stroke-linejoin="round" stroke-linecap="round"/>
<polyline points="443.2,158.7 445.7,166.6" fill="none" stroke="#0cbfd2" stroke-width="3.6" stroke-linejoin="round" stroke-linecap="round"/>
<polyline points="459.8,160.2 462.3,167.7" fill="none" stroke="#0cbfd2" stroke-width="3.6" stroke-linejoin="round" stroke-linecap="round"/>
<polyline points="476.4,159.8 478.9,167.5" fill="none" stroke="#0cbfd2" stroke-width="3.6" stroke-linejoin="round" stroke-linecap="round"/>
<polyline points="492.9,160.2 495.4,166.6" fill="none" stroke="#0cbfd2" stroke-width="3.6" stroke-linejoin="round" stroke-linecap="round"/>
<polyline points="509.5,160.4 512.0,167.2" fill="none" stroke="#0cbfd2" stroke-width="3.6" stroke-linejoin="round" stroke-linecap="round"/>
<polyline points="526.1,160.2 528.6,166.6" fill="none" stroke="#0cbfd2" stroke-width="3.6" stroke-linejoin="round" stroke-linecap="round"/>
<polyline points="542.7,159.0 545.2,167.1" fill="none" stroke="#0cbfd2" stroke-width="3.6" stroke-linejoin="round" stroke-linecap="round"/>
<polyline points="385.0,167.3 388.6,153.6" fill="none" stroke="#0cbfd2" stroke-width="3.8" stroke-linejoin="round" stroke-linecap="round"/>
</g>
<g clip-path="url(#c3)">
<polyline points="30.0,271.0 34.0,274.0 38.5,275.0 40.9,273.6 44.0,280.0 47.6,287.0" fill="none" stroke="#10f0a8" stroke-width="4.2" stroke-linejoin="round" stroke-linecap="round"/>
<polyline points="44.5,272.0 48.0,264.0 52.0,259.7 55.4,266.0 57.8,277.3" fill="none" stroke="#10f0a8" stroke-width="4.2" stroke-linejoin="round" stroke-linecap="round"/>
<polyline points="34.5,245.0 34.5,279.0" fill="none" stroke="#10f0a8" stroke-width="4.2" stroke-linejoin="round" stroke-linecap="round"/>
<polyline points="59.0,262.0 59.0,270.0 63.0,285.7" fill="none" stroke="#10f0a8" stroke-width="4.2" stroke-linejoin="round" stroke-linecap="round"/>
<polyline points="66.3,249.4 68.5,257.8 72.0,250.0 73.0,254.0" fill="none" stroke="#10f0a8" stroke-width="4.2" stroke-linejoin="round" stroke-linecap="round"/>
<polyline points="72.4,268.0 82.0,270.0 85.7,285.7 89.0,288.5 93.0,288.2 96.0,285.0 97.8,270.0 101.0,258.0 105.0,248.0" fill="none" stroke="#10f0a8" stroke-width="4.2" stroke-linejoin="round" stroke-linecap="round"/>
<polyline points="107.5,268.0 110.0,261.0 113.0,266.0 116.0,262.0 118.0,267.0 121.0,256.0 124.0,258.0 127.0,264.0 131.0,266.0 135.0,263.0 138.0,267.0" fill="none" stroke="#10f0a8" stroke-width="4.2" stroke-linejoin="round" stroke-linecap="round"/>
<path d="M105.6 244.7L107.9 247.0L105.6 249.3L103.3 247.0ZM105.5 247.6L107.8 249.9L105.5 252.2L103.2 249.9ZM105.5 250.4L107.8 252.8L105.5 255.1L103.2 252.8ZM105.5 253.3L107.8 255.6L105.5 257.9L103.2 255.6ZM105.4 256.2L107.7 258.5L105.4 260.8L103.1 258.5ZM105.3 259.1L107.6 261.4L105.3 263.7L103.0 261.4ZM105.3 261.9L107.6 264.2L105.3 266.6L103.0 264.2ZM105.2 264.8L107.5 267.1L105.2 269.4L103.0 267.1ZM105.2 267.7L107.5 270.0L105.2 272.3L102.9 270.0Z" fill="#10f0a8"/>
<path d="M41.7 231.4L43.9 233.6L41.7 235.8L39.5 233.6ZM41.6 234.8L43.8 237.0L41.6 239.2L39.4 237.0ZM41.5 238.3L43.7 240.5L41.5 242.7L39.3 240.5ZM41.5 241.7L43.7 243.9L41.5 246.1L39.3 243.9ZM41.4 245.2L43.6 247.4L41.4 249.6L39.2 247.4ZM41.3 248.6L43.5 250.8L41.3 253.0L39.1 250.8ZM41.2 252.0L43.4 254.2L41.2 256.4L39.0 254.2ZM41.1 255.5L43.3 257.7L41.1 259.9L38.9 257.7ZM41.0 258.9L43.2 261.1L41.0 263.3L38.8 261.1ZM41.0 262.4L43.2 264.6L41.0 266.8L38.8 264.6ZM40.9 265.8L43.1 268.0L40.9 270.2L38.7 268.0ZM40.8 269.2L43.0 271.4L40.8 273.6L38.6 271.4ZM40.7 272.7L42.9 274.9L40.7 277.1L38.5 274.9ZM40.6 276.1L42.8 278.3L40.6 280.5L38.4 278.3ZM40.6 279.6L42.8 281.8L40.6 284.0L38.4 281.8ZM40.5 283.0L42.7 285.2L40.5 287.4L38.3 285.2ZM40.4 286.5L42.6 288.7L40.4 290.9L38.2 288.7ZM40.3 289.9L42.5 292.1L40.3 294.3L38.1 292.1ZM40.2 293.3L42.4 295.5L40.2 297.7L38.0 295.5ZM40.1 296.8L42.3 299.0L40.1 301.2L37.9 299.0ZM40.1 300.2L42.3 302.4L40.1 304.6L37.9 302.4ZM40.0 303.7L42.2 305.9L40.0 308.1L37.8 305.9ZM39.9 307.1L42.1 309.3L39.9 311.5L37.7 309.3Z" fill="#10f0a8"/>
<path d="M57.5 235.8L59.7 238.0L57.5 240.2L55.3 238.0ZM57.7 239.2L59.9 241.4L57.7 243.6L55.5 241.4ZM57.9 242.7L60.1 244.9L57.9 247.1L55.7 244.9ZM58.1 246.1L60.3 248.3L58.1 250.5L55.9 248.3ZM58.4 249.5L60.6 251.7L58.4 253.9L56.2 251.7ZM58.6 252.9L60.8 255.1L58.6 257.3L56.4 255.1ZM58.8 256.4L61.0 258.6L58.8 260.8L56.6 258.6ZM59.0 259.8L61.2 262.0L59.0 264.2L56.8 262.0Z" fill="#10f0a8"/>
<path d="M55.7 278.8L57.9 281.0L55.7 283.2L53.5 281.0ZM55.7 282.5L57.9 284.7L55.7 286.9L53.5 284.7ZM55.7 286.2L57.9 288.4L55.7 290.6L53.5 288.4ZM55.7 289.9L57.9 292.1L55.7 294.3L53.5 292.1ZM55.7 293.7L57.9 295.9L55.7 298.1L53.5 295.9ZM55.7 297.4L57.9 299.6L55.7 301.8L53.5 299.6ZM55.7 301.1L57.9 303.3L55.7 305.5L53.5 303.3ZM55.7 304.8L57.9 307.0L55.7 309.2L53.5 307.0Z" fill="#10f0a8"/>
<path d="M84.3 231.4L86.5 233.6L84.3 235.8L82.1 233.6ZM84.3 234.6L86.5 236.8L84.3 239.0L82.1 236.8ZM84.3 237.8L86.5 240.0L84.3 242.2L82.1 240.0ZM84.3 241.0L86.5 243.2L84.3 245.4L82.1 243.2ZM84.3 244.2L86.5 246.4L84.3 248.6L82.1 246.4ZM84.3 247.4L86.5 249.6L84.3 251.8L82.1 249.6ZM84.3 250.6L86.5 252.8L84.3 255.0L82.1 252.8ZM84.3 253.8L86.5 256.0L84.3 258.2L82.1 256.0ZM84.3 257.0L86.5 259.2L84.3 261.4L82.1 259.2ZM84.3 260.2L86.5 262.4L84.3 264.6L82.1 262.4ZM84.3 263.4L86.5 265.6L84.3 267.8L82.1 265.6ZM84.3 266.6L86.5 268.8L84.3 271.0L82.1 268.8ZM84.3 269.8L86.5 272.0L84.3 274.2L82.1 272.0Z" fill="#10f0a8"/>
<path d="M84.0 269.8L86.2 272.0L84.0 274.2L81.8 272.0ZM84.0 273.3L86.2 275.5L84.0 277.7L81.8 275.5ZM83.9 276.7L86.1 278.9L83.9 281.1L81.7 278.9ZM83.9 280.2L86.1 282.4L83.9 284.6L81.7 282.4ZM83.9 283.6L86.1 285.8L83.9 288.0L81.7 285.8ZM83.8 287.1L86.0 289.3L83.8 291.5L81.6 289.3ZM83.8 290.5L86.0 292.7L83.8 294.9L81.6 292.7ZM83.7 294.0L85.9 296.2L83.7 298.4L81.5 296.2ZM83.7 297.4L85.9 299.6L83.7 301.8L81.5 299.6ZM83.7 300.9L85.9 303.1L83.7 305.3L81.5 303.1ZM83.6 304.3L85.8 306.5L83.6 308.7L81.4 306.5ZM83.6 307.8L85.8 310.0L83.6 312.2L81.4 310.0Z" fill="#10f0a8"/>
<polyline points="64.4,250.0 64.2,290.0" fill="none" stroke="#10f0a8" stroke-width="3.6" stroke-linejoin="round" stroke-linecap="round"/>
<path d="M64.2 285.7L66.5 288.0L64.2 290.3L61.9 288.0ZM64.2 288.6L66.5 290.9L64.2 293.2L61.9 290.9ZM64.1 291.4L66.4 293.7L64.1 296.0L61.8 293.7ZM64.1 294.3L66.4 296.6L64.1 298.9L61.8 296.6ZM64.1 297.1L66.4 299.4L64.1 301.7L61.8 299.4ZM64.1 300.0L66.4 302.3L64.1 304.6L61.8 302.3ZM64.0 302.8L66.3 305.1L64.0 307.4L61.7 305.1ZM64.0 305.7L66.3 308.0L64.0 310.3L61.7 308.0Z" fill="#10f0a8"/>
<polyline points="72.4,252.0 72.2,292.0" fill="none" stroke="#10f0a8" stroke-width="3.6" stroke-linejoin="round" stroke-linecap="round"/>
<path d="M72.2 287.7L74.5 290.0L72.2 292.3L69.9 290.0ZM72.2 290.7L74.5 293.0L72.2 295.3L69.9 293.0ZM72.1 293.7L74.4 296.0L72.1 298.3L69.8 296.0ZM72.1 296.7L74.4 299.0L72.1 301.3L69.8 299.0ZM72.1 299.7L74.4 302.0L72.1 304.3L69.8 302.0ZM72.0 302.7L74.3 305.0L72.0 307.3L69.7 305.0ZM72.0 305.7L74.3 308.0L72.0 310.3L69.7 308.0Z" fill="#10f0a8"/>
<polyline points="77.5,246.5 77.3,290.0" fill="none" stroke="#10f0a8" stroke-width="3.6" stroke-linejoin="round" stroke-linecap="round"/>
<path d="M77.3 285.7L79.6 288.0L77.3 290.3L75.0 288.0ZM77.3 288.7L79.6 291.0L77.3 293.3L75.0 291.0ZM77.2 291.7L79.5 294.0L77.2 296.3L74.9 294.0ZM77.2 294.7L79.5 297.0L77.2 299.3L74.9 297.0ZM77.2 297.7L79.5 300.0L77.2 302.3L74.9 300.0ZM77.1 300.7L79.4 303.0L77.1 305.3L74.8 303.0ZM77.1 303.7L79.4 306.0L77.1 308.3L74.8 306.0Z" fill="#10f0a8"/>
<path d="M57.6 266.8L59.8 269.0L57.6 271.2L55.4 269.0ZM57.6 269.8L59.8 272.0L57.6 274.2L55.4 272.0ZM57.5 272.8L59.7 275.0L57.5 277.2L55.3 275.0ZM57.5 275.8L59.7 278.0L57.5 280.2L55.3 278.0ZM57.4 278.8L59.6 281.0L57.4 283.2L55.2 281.0ZM57.4 281.8L59.6 284.0L57.4 286.2L55.2 284.0ZM57.3 284.8L59.5 287.0L57.3 289.2L55.1 287.0ZM57.3 287.8L59.5 290.0L57.3 292.2L55.1 290.0ZM57.2 290.8L59.4 293.0L57.2 295.2L55.0 293.0ZM57.2 293.8L59.4 296.0L57.2 298.2L55.0 296.0ZM57.1 296.8L59.3 299.0L57.1 301.2L54.9 299.0ZM57.1 299.8L59.3 302.0L57.1 304.2L54.9 302.0ZM57.0 302.8L59.2 305.0L57.0 307.2L54.8 305.0ZM57.0 305.8L59.2 308.0L57.0 310.2L54.8 308.0Z" fill="#10f0a8"/>
<path d="M91.2 232.6L93.4 234.8L91.2 237.0L89.0 234.8ZM91.2 240.2L93.4 242.4L91.2 244.6L89.0 242.4ZM91.2 247.7L93.4 249.9L91.2 252.1L89.0 249.9ZM91.2 255.2L93.4 257.4L91.2 259.6L89.0 257.4ZM91.2 262.8L93.4 265.0L91.2 267.2L89.0 265.0Z" fill="#10f0a8"/>
<path d="M89.6 289.6L91.8 291.8L89.6 294.0L87.4 291.8ZM89.6 296.7L91.8 298.9L89.6 301.1L87.4 298.9ZM89.6 303.8L91.8 306.0L89.6 308.2L87.4 306.0Z" fill="#10f0a8"/>
<path d="M105.1 267.8L107.3 270.0L105.1 272.2L102.9 270.0ZM105.1 271.4L107.3 273.6L105.1 275.8L102.9 273.6ZM105.1 275.1L107.3 277.3L105.1 279.5L102.9 277.3ZM105.1 278.7L107.3 280.9L105.1 283.1L102.9 280.9ZM105.1 282.3L107.3 284.5L105.1 286.7L102.9 284.5ZM105.1 286.0L107.3 288.2L105.1 290.4L102.9 288.2ZM105.1 289.6L107.3 291.8L105.1 294.0L102.9 291.8ZM105.1 293.3L107.3 295.5L105.1 297.7L102.9 295.5ZM105.1 296.9L107.3 299.1L105.1 301.3L102.9 299.1ZM105.1 300.5L107.3 302.7L105.1 304.9L102.9 302.7ZM105.1 304.2L107.3 306.4L105.1 308.6L102.9 306.4ZM105.1 307.8L107.3 310.0L105.1 312.2L102.9 310.0Z" fill="#10f0a8"/>
<polyline points="107.0,263.8 109.4,267.5 111.8,258.8 114.2,264.1 116.6,255.0 119.0,260.6 121.4,254.8 123.8,262.7 126.2,257.7 128.6,268.0 131.0,263.5 133.4,269.6 135.8,264.8 138.2,270.4 140.6,263.1 143.0,270.1 145.4,261.6 147.8,267.5 150.2,262.8 152.6,269.3 155.0,263.7 157.4,271.6 159.8,266.4 162.2,272.8 164.6,263.5 167.0,268.4 169.4,261.3 171.8,268.0 174.2,263.4 176.6,270.5 179.0,264.1 181.4,271.2 183.8,267.0 186.2,274.7 188.6,267.3 191.0,275.1 193.4,267.5 195.8,272.0 198.2,263.3 200.6,269.9 203.0,263.9 205.4,269.7 207.8,264.6 210.2,270.6 212.6,263.4 215.0,269.9 217.4,263.0 219.8,269.0 222.2,264.0 224.6,271.7 227.0,266.5 229.4,273.9 231.8,268.1 234.2,274.6 236.6,267.7 239.0,274.4 241.4,268.3 243.8,273.4 246.2,266.0" fill="none" stroke="#10f0a8" stroke-width="3.4" stroke-linejoin="round" stroke-linecap="round"/>
<polyline points="112.4,262.0 113.6,296.6" fill="none" stroke="#10f0a8" stroke-width="4" stroke-linejoin="round" stroke-linecap="round"/>
<polyline points="122.1,262.0 123.3,299.7" fill="none" stroke="#10f0a8" stroke-width="4" stroke-linejoin="round" stroke-linecap="round"/>
<polyline points="128.8,262.0 130.0,289.4" fill="none" stroke="#10f0a8" stroke-width="4" stroke-linejoin="round" stroke-linecap="round"/>
<polyline points="145.7,262.0 146.9,288.0" fill="none" stroke="#10f0a8" stroke-width="4" stroke-linejoin="round" stroke-linecap="round"/>
<polyline points="159.4,266.0 160.6,286.0" fill="none" stroke="#10f0a8" stroke-width="4" stroke-linejoin="round" stroke-linecap="round"/>
<polyline points="177.4,265.0 178.6,287.0" fill="none" stroke="#10f0a8" stroke-width="4" stroke-linejoin="round" stroke-linecap="round"/>
<polyline points="192.4,266.0 193.6,284.0" fill="none" stroke="#10f0a8" stroke-width="4" stroke-linejoin="round" stroke-linecap="round"/>
<polyline points="211.4,264.0 212.6,282.0" fill="none" stroke="#10f0a8" stroke-width="4" stroke-linejoin="round" stroke-linecap="round"/>
<path d="M143.6 242.0L146.1 244.5L143.6 247.0L141.1 244.5ZM143.5 244.4L146.0 246.9L143.5 249.4L141.0 246.9ZM143.3 246.8L145.8 249.3L143.3 251.8L140.8 249.3ZM143.2 249.3L145.7 251.8L143.2 254.3L140.7 251.8ZM143.0 251.7L145.5 254.2L143.0 256.7L140.5 254.2ZM142.9 254.1L145.4 256.6L142.9 259.1L140.4 256.6ZM142.7 256.5L145.2 259.0L142.7 261.5L140.2 259.0ZM142.6 258.9L145.1 261.4L142.6 263.9L140.1 261.4ZM142.4 261.4L144.9 263.9L142.4 266.4L139.9 263.9ZM142.3 263.8L144.8 266.3L142.3 268.8L139.8 266.3ZM142.2 266.2L144.7 268.7L142.2 271.2L139.7 268.7ZM142.0 268.6L144.5 271.1L142.0 273.6L139.5 271.1ZM141.9 271.0L144.4 273.5L141.9 276.0L139.4 273.5ZM141.7 273.5L144.2 276.0L141.7 278.5L139.2 276.0ZM141.6 275.9L144.1 278.4L141.6 280.9L139.1 278.4ZM141.4 278.3L143.9 280.8L141.4 283.3L138.9 280.8ZM141.3 280.7L143.8 283.2L141.3 285.7L138.8 283.2ZM141.2 283.1L143.7 285.6L141.2 288.1L138.7 285.6ZM141.0 285.6L143.5 288.1L141.0 290.6L138.5 288.1ZM140.9 288.0L143.4 290.5L140.9 293.0L138.4 290.5ZM140.7 290.4L143.2 292.9L140.7 295.4L138.2 292.9ZM140.6 292.8L143.1 295.3L140.6 297.8L138.1 295.3ZM140.4 295.2L142.9 297.7L140.4 300.2L137.9 297.7ZM140.3 297.7L142.8 300.2L140.3 302.7L137.8 300.2ZM140.1 300.1L142.6 302.6L140.1 305.1L137.6 302.6ZM140.0 302.5L142.5 305.0L140.0 307.5L137.5 305.0Z" fill="#10f0a8"/>
<path d="M158.3 237.5L160.8 240.0L158.3 242.5L155.8 240.0ZM158.2 239.9L160.7 242.4L158.2 244.9L155.7 242.4ZM158.0 242.3L160.5 244.8L158.0 247.3L155.5 244.8ZM157.9 244.7L160.4 247.2L157.9 249.7L155.4 247.2ZM157.7 247.1L160.2 249.6L157.7 252.1L155.2 249.6ZM157.6 249.5L160.1 252.0L157.6 254.5L155.1 252.0ZM157.5 251.9L160.0 254.4L157.5 256.9L155.0 254.4ZM157.3 254.3L159.8 256.8L157.3 259.3L154.8 256.8ZM157.2 256.7L159.7 259.2L157.2 261.7L154.7 259.2ZM157.1 259.1L159.6 261.6L157.1 264.1L154.6 261.6ZM156.9 261.5L159.4 264.0L156.9 266.5L154.4 264.0ZM156.8 263.9L159.3 266.4L156.8 268.9L154.3 266.4ZM156.6 266.3L159.1 268.8L156.6 271.3L154.1 268.8ZM156.5 268.8L159.0 271.2L156.5 273.8L154.0 271.2ZM156.4 271.2L158.9 273.7L156.4 276.2L153.9 273.7ZM156.2 273.6L158.7 276.1L156.2 278.6L153.7 276.1ZM156.1 276.0L158.6 278.5L156.1 281.0L153.6 278.5ZM155.9 278.4L158.4 280.9L155.9 283.4L153.4 280.9ZM155.8 280.8L158.3 283.3L155.8 285.8L153.3 283.3ZM155.7 283.2L158.2 285.7L155.7 288.2L153.2 285.7ZM155.5 285.6L158.0 288.1L155.5 290.6L153.0 288.1ZM155.4 288.0L157.9 290.5L155.4 293.0L152.9 290.5ZM155.3 290.4L157.8 292.9L155.3 295.4L152.8 292.9ZM155.1 292.8L157.6 295.3L155.1 297.8L152.6 295.3ZM155.0 295.2L157.5 297.7L155.0 300.2L152.5 297.7ZM154.8 297.6L157.3 300.1L154.8 302.6L152.3 300.1ZM154.7 300.0L157.2 302.5L154.7 305.0L152.2 302.5Z" fill="#10f0a8"/>
<path d="M175.3 248.5L177.8 251.0L175.3 253.5L172.8 251.0ZM175.1 251.0L177.6 253.5L175.1 256.0L172.6 253.5ZM175.0 253.4L177.5 255.9L175.0 258.4L172.5 255.9ZM174.8 255.9L177.3 258.4L174.8 260.9L172.3 258.4ZM174.6 258.3L177.1 260.8L174.6 263.3L172.1 260.8ZM174.4 260.8L176.9 263.3L174.4 265.8L171.9 263.3ZM174.3 263.2L176.8 265.7L174.3 268.2L171.8 265.7ZM174.1 265.7L176.6 268.2L174.1 270.7L171.6 268.2ZM173.9 268.1L176.4 270.6L173.9 273.1L171.4 270.6ZM173.8 270.6L176.3 273.1L173.8 275.6L171.3 273.1ZM173.6 273.0L176.1 275.5L173.6 278.0L171.1 275.5ZM173.4 275.5L175.9 278.0L173.4 280.5L170.9 278.0ZM173.2 277.9L175.7 280.4L173.2 282.9L170.7 280.4ZM173.1 280.4L175.6 282.9L173.1 285.4L170.6 282.9ZM172.9 282.8L175.4 285.3L172.9 287.8L170.4 285.3ZM172.7 285.3L175.2 287.8L172.7 290.3L170.2 287.8ZM172.6 287.7L175.1 290.2L172.6 292.7L170.1 290.2ZM172.4 290.2L174.9 292.7L172.4 295.2L169.9 292.7ZM172.2 292.6L174.7 295.1L172.2 297.6L169.7 295.1ZM172.0 295.1L174.5 297.6L172.0 300.1L169.5 297.6ZM171.9 297.5L174.4 300.0L171.9 302.5L169.4 300.0ZM171.7 300.0L174.2 302.5L171.7 305.0L169.2 302.5Z" fill="#10f0a8"/>
<path d="M191.3 245.5L193.8 248.0L191.3 250.5L188.8 248.0ZM191.1 248.0L193.6 250.5L191.1 253.0L188.6 250.5ZM191.0 250.4L193.5 252.9L191.0 255.4L188.5 252.9ZM190.8 252.9L193.3 255.4L190.8 257.9L188.3 255.4ZM190.6 255.3L193.1 257.8L190.6 260.3L188.1 257.8ZM190.4 257.8L192.9 260.3L190.4 262.8L187.9 260.3ZM190.3 260.2L192.8 262.7L190.3 265.2L187.8 262.7ZM190.1 262.7L192.6 265.2L190.1 267.7L187.6 265.2ZM189.9 265.1L192.4 267.6L189.9 270.1L187.4 267.6ZM189.8 267.6L192.3 270.1L189.8 272.6L187.3 270.1ZM189.6 270.0L192.1 272.5L189.6 275.0L187.1 272.5ZM189.4 272.5L191.9 275.0L189.4 277.5L186.9 275.0ZM189.2 274.9L191.7 277.4L189.2 279.9L186.7 277.4ZM189.1 277.4L191.6 279.9L189.1 282.4L186.6 279.9ZM188.9 279.8L191.4 282.3L188.9 284.8L186.4 282.3ZM188.7 282.3L191.2 284.8L188.7 287.3L186.2 284.8ZM188.6 284.7L191.1 287.2L188.6 289.7L186.1 287.2ZM188.4 287.2L190.9 289.7L188.4 292.2L185.9 289.7ZM188.2 289.6L190.7 292.1L188.2 294.6L185.7 292.1ZM188.0 292.1L190.5 294.6L188.0 297.1L185.5 294.6ZM187.9 294.5L190.4 297.0L187.9 299.5L185.4 297.0ZM187.7 297.0L190.2 299.5L187.7 302.0L185.2 299.5Z" fill="#10f0a8"/>
<path d="M201.2 252.5L203.7 255.0L201.2 257.5L198.7 255.0ZM200.9 255.0L203.4 257.5L200.9 260.0L198.4 257.5ZM200.5 257.4L203.0 259.9L200.5 262.4L198.0 259.9ZM200.2 259.9L202.7 262.4L200.2 264.9L197.7 262.4ZM199.9 262.3L202.4 264.8L199.9 267.3L197.4 264.8ZM199.6 264.8L202.1 267.3L199.6 269.8L197.1 267.3ZM199.2 267.2L201.7 269.7L199.2 272.2L196.7 269.7ZM198.9 269.7L201.4 272.2L198.9 274.7L196.4 272.2ZM198.6 272.1L201.1 274.6L198.6 277.1L196.1 274.6ZM198.3 274.6L200.8 277.1L198.3 279.6L195.8 277.1ZM197.9 277.0L200.4 279.5L197.9 282.0L195.4 279.5ZM197.6 279.5L200.1 282.0L197.6 284.5L195.1 282.0Z" fill="#10f0a8"/>
<path d="M208.3 244.5L210.8 247.0L208.3 249.5L205.8 247.0ZM208.1 247.0L210.6 249.5L208.1 252.0L205.6 249.5ZM208.0 249.5L210.5 252.0L208.0 254.5L205.5 252.0ZM207.8 252.0L210.3 254.5L207.8 257.0L205.3 254.5ZM207.6 254.5L210.1 257.0L207.6 259.5L205.1 257.0ZM207.4 257.0L209.9 259.5L207.4 262.0L204.9 259.5ZM207.3 259.5L209.8 262.0L207.3 264.5L204.8 262.0ZM207.1 262.0L209.6 264.5L207.1 267.0L204.6 264.5ZM206.9 264.5L209.4 267.0L206.9 269.5L204.4 267.0ZM206.8 267.0L209.3 269.5L206.8 272.0L204.3 269.5ZM206.6 269.5L209.1 272.0L206.6 274.5L204.1 272.0ZM206.4 272.0L208.9 274.5L206.4 277.0L203.9 274.5ZM206.2 274.5L208.7 277.0L206.2 279.5L203.7 277.0ZM206.1 277.0L208.6 279.5L206.1 282.0L203.6 279.5ZM205.9 279.5L208.4 282.0L205.9 284.5L203.4 282.0ZM205.7 282.0L208.2 284.5L205.7 287.0L203.2 284.5ZM205.6 284.5L208.1 287.0L205.6 289.5L203.1 287.0ZM205.4 287.0L207.9 289.5L205.4 292.0L202.9 289.5ZM205.2 289.5L207.7 292.0L205.2 294.5L202.7 292.0ZM205.0 292.0L207.5 294.5L205.0 297.0L202.5 294.5ZM204.9 294.5L207.4 297.0L204.9 299.5L202.4 297.0ZM204.7 297.0L207.2 299.5L204.7 302.0L202.2 299.5Z" fill="#10f0a8"/>
<path d="M218.3 248.5L220.8 251.0L218.3 253.5L215.8 251.0ZM217.9 250.9L220.4 253.4L217.9 255.9L215.4 253.4ZM217.4 253.2L219.9 255.8L217.4 258.2L214.9 255.8ZM216.9 255.6L219.4 258.1L216.9 260.6L214.4 258.1ZM216.5 258.0L219.0 260.5L216.5 263.0L214.0 260.5ZM216.1 260.4L218.6 262.9L216.1 265.4L213.6 262.9ZM215.6 262.8L218.1 265.2L215.6 267.8L213.1 265.2ZM215.1 265.1L217.6 267.6L215.1 270.1L212.6 267.6ZM214.7 267.5L217.2 270.0L214.7 272.5L212.2 270.0Z" fill="#10f0a8"/>
<path d="M222.8 257.5L225.3 260.0L222.8 262.5L220.3 260.0ZM222.6 259.9L225.1 262.4L222.6 264.9L220.1 262.4ZM222.3 262.4L224.8 264.9L222.3 267.4L219.8 264.9ZM222.1 264.8L224.6 267.3L222.1 269.8L219.6 267.3ZM221.8 267.2L224.3 269.7L221.8 272.2L219.3 269.7ZM221.6 269.7L224.1 272.2L221.6 274.7L219.1 272.2ZM221.4 272.1L223.9 274.6L221.4 277.1L218.9 274.6ZM221.1 274.5L223.6 277.0L221.1 279.5L218.6 277.0ZM220.9 277.0L223.4 279.5L220.9 282.0L218.4 279.5ZM220.6 279.4L223.1 281.9L220.6 284.4L218.1 281.9ZM220.4 281.8L222.9 284.3L220.4 286.8L217.9 284.3ZM220.2 284.3L222.7 286.8L220.2 289.3L217.7 286.8ZM219.9 286.7L222.4 289.2L219.9 291.7L217.4 289.2ZM219.7 289.1L222.2 291.6L219.7 294.1L217.2 291.6ZM219.4 291.6L221.9 294.1L219.4 296.6L216.9 294.1ZM219.2 294.0L221.7 296.5L219.2 299.0L216.7 296.5Z" fill="#10f0a8"/>
<path d="M226.8 240.5L229.3 243.0L226.8 245.5L224.3 243.0ZM226.6 243.0L229.1 245.5L226.6 248.0L224.1 245.5ZM226.3 245.4L228.8 247.9L226.3 250.4L223.8 247.9ZM226.1 247.9L228.6 250.4L226.1 252.9L223.6 250.4ZM225.8 250.4L228.3 252.9L225.8 255.4L223.3 252.9ZM225.6 252.8L228.1 255.3L225.6 257.8L223.1 255.3ZM225.4 255.3L227.9 257.8L225.4 260.3L222.9 257.8ZM225.1 257.8L227.6 260.3L225.1 262.8L222.6 260.3ZM224.9 260.2L227.4 262.7L224.9 265.2L222.4 262.7ZM224.6 262.7L227.1 265.2L224.6 267.7L222.1 265.2ZM224.4 265.2L226.9 267.7L224.4 270.2L221.9 267.7ZM224.2 267.6L226.7 270.1L224.2 272.6L221.7 270.1ZM223.9 270.1L226.4 272.6L223.9 275.1L221.4 272.6ZM223.7 272.6L226.2 275.1L223.7 277.6L221.2 275.1ZM223.4 275.0L225.9 277.5L223.4 280.0L220.9 277.5ZM223.2 277.5L225.7 280.0L223.2 282.5L220.7 280.0Z" fill="#10f0a8"/>
<path d="M234.8 244.5L237.3 247.0L234.8 249.5L232.3 247.0ZM234.6 246.9L237.1 249.4L234.6 251.9L232.1 249.4ZM234.4 249.4L236.9 251.9L234.4 254.4L231.9 251.9ZM234.1 251.8L236.6 254.3L234.1 256.8L231.6 254.3ZM233.9 254.2L236.4 256.8L233.9 259.2L231.4 256.8ZM233.7 256.7L236.2 259.2L233.7 261.7L231.2 259.2ZM233.4 259.1L235.9 261.6L233.4 264.1L230.9 261.6ZM233.2 261.6L235.7 264.1L233.2 266.6L230.7 264.1ZM233.0 264.0L235.5 266.5L233.0 269.0L230.5 266.5ZM232.8 266.4L235.3 268.9L232.8 271.4L230.3 268.9ZM232.6 268.9L235.1 271.4L232.6 273.9L230.1 271.4ZM232.3 271.3L234.8 273.8L232.3 276.3L229.8 273.8ZM232.1 273.8L234.6 276.2L232.1 278.8L229.6 276.2ZM231.9 276.2L234.4 278.7L231.9 281.2L229.4 278.7ZM231.6 278.6L234.1 281.1L231.6 283.6L229.1 281.1ZM231.4 281.1L233.9 283.6L231.4 286.1L228.9 283.6ZM231.2 283.5L233.7 286.0L231.2 288.5L228.7 286.0Z" fill="#10f0a8"/>
<path d="M240.3 237.5L242.8 240.0L240.3 242.5L237.8 240.0ZM240.2 239.9L242.7 242.4L240.2 244.9L237.7 242.4ZM240.0 242.3L242.5 244.8L240.0 247.3L237.5 244.8ZM239.9 244.7L242.4 247.2L239.9 249.7L237.4 247.2ZM239.7 247.1L242.2 249.6L239.7 252.1L237.2 249.6ZM239.6 249.5L242.1 252.0L239.6 254.5L237.1 252.0ZM239.4 251.9L241.9 254.4L239.4 256.9L236.9 254.4ZM239.2 254.3L241.8 256.8L239.2 259.3L236.8 256.8ZM239.1 256.7L241.6 259.2L239.1 261.7L236.6 259.2ZM238.9 259.1L241.4 261.6L238.9 264.1L236.4 261.6ZM238.8 261.5L241.3 264.0L238.8 266.5L236.3 264.0ZM238.7 263.9L241.2 266.4L238.7 268.9L236.2 266.4ZM238.5 266.2L241.0 268.8L238.5 271.2L236.0 268.8ZM238.3 268.6L240.8 271.1L238.3 273.6L235.8 271.1ZM238.2 271.0L240.7 273.5L238.2 276.0L235.7 273.5ZM238.1 273.4L240.6 275.9L238.1 278.4L235.6 275.9ZM237.9 275.8L240.4 278.3L237.9 280.8L235.4 278.3ZM237.8 278.2L240.2 280.7L237.8 283.2L235.2 280.7ZM237.6 280.6L240.1 283.1L237.6 285.6L235.1 283.1ZM237.4 283.0L239.9 285.5L237.4 288.0L234.9 285.5ZM237.3 285.4L239.8 287.9L237.3 290.4L234.8 287.9ZM237.1 287.8L239.6 290.3L237.1 292.8L234.6 290.3ZM237.0 290.2L239.5 292.7L237.0 295.2L234.5 292.7ZM236.8 292.6L239.3 295.1L236.8 297.6L234.3 295.1ZM236.7 295.0L239.2 297.5L236.7 300.0L234.2 297.5Z" fill="#10f0a8"/>
<polyline points="241.0,239.4 242.6,288.8" fill="none" stroke="#10f0a8" stroke-width="3.0" stroke-linejoin="round" stroke-linecap="round"/>
<path d="M241.0 236.2L243.2 238.4L241.0 240.6L238.8 238.4ZM241.1 238.8L243.3 241.0L241.1 243.2L238.9 241.0ZM241.2 241.3L243.4 243.5L241.2 245.7L239.0 243.5ZM241.2 243.9L243.4 246.1L241.2 248.3L239.0 246.1ZM241.3 246.5L243.5 248.7L241.3 250.9L239.1 248.7ZM241.4 249.1L243.6 251.2L241.4 253.4L239.2 251.2ZM241.5 251.6L243.7 253.8L241.5 256.0L239.3 253.8ZM241.6 254.2L243.8 256.4L241.6 258.6L239.4 256.4ZM241.6 256.8L243.8 259.0L241.6 261.2L239.4 259.0ZM241.7 259.3L243.9 261.5L241.7 263.7L239.5 261.5ZM241.8 261.9L244.0 264.1L241.8 266.3L239.6 264.1ZM241.9 264.5L244.1 266.7L241.9 268.9L239.7 266.7ZM242.0 267.0L244.2 269.2L242.0 271.4L239.8 269.2ZM242.0 269.6L244.2 271.8L242.0 274.0L239.8 271.8ZM242.1 272.2L244.3 274.4L242.1 276.6L239.9 274.4ZM242.2 274.8L244.4 276.9L242.2 279.1L240.0 276.9ZM242.3 277.3L244.5 279.5L242.3 281.7L240.1 279.5ZM242.4 279.9L244.6 282.1L242.4 284.3L240.2 282.1ZM242.4 282.5L244.6 284.7L242.4 286.9L240.2 284.7ZM242.5 285.0L244.7 287.2L242.5 289.4L240.3 287.2ZM242.6 287.6L244.8 289.8L242.6 292.0L240.4 289.8Z" fill="#10f0a8"/>
<polyline points="249.3,253.7 250.9,276.8" fill="none" stroke="#10f0a8" stroke-width="3.0" stroke-linejoin="round" stroke-linecap="round"/>
<path d="M249.3 250.5L251.5 252.7L249.3 254.9L247.1 252.7ZM249.5 253.0L251.7 255.2L249.5 257.4L247.3 255.2ZM249.6 255.5L251.8 257.7L249.6 259.9L247.4 257.7ZM249.8 258.0L252.0 260.2L249.8 262.4L247.6 260.2ZM249.9 260.5L252.1 262.7L249.9 264.9L247.7 262.7ZM250.1 263.1L252.3 265.2L250.1 267.4L247.9 265.2ZM250.3 265.6L252.5 267.8L250.3 270.0L248.1 267.8ZM250.4 268.1L252.6 270.3L250.4 272.5L248.2 270.3ZM250.6 270.6L252.8 272.8L250.6 275.0L248.4 272.8ZM250.7 273.1L252.9 275.3L250.7 277.5L248.5 275.3ZM250.9 275.6L253.1 277.8L250.9 280.0L248.7 277.8Z" fill="#10f0a8"/>
<polyline points="253.5,271.7 255.1,300.8" fill="none" stroke="#10f0a8" stroke-width="3.0" stroke-linejoin="round" stroke-linecap="round"/>
<path d="M253.5 268.5L255.7 270.7L253.5 272.9L251.3 270.7ZM253.6 271.1L255.8 273.3L253.6 275.5L251.4 273.3ZM253.8 273.7L256.0 275.9L253.8 278.1L251.6 275.9ZM253.9 276.3L256.1 278.5L253.9 280.7L251.7 278.5ZM254.0 278.9L256.2 281.1L254.0 283.3L251.8 281.1ZM254.2 281.5L256.4 283.7L254.2 285.9L252.0 283.7ZM254.3 284.1L256.5 286.2L254.3 288.4L252.1 286.2ZM254.4 286.6L256.6 288.8L254.4 291.0L252.2 288.8ZM254.6 289.2L256.8 291.4L254.6 293.6L252.4 291.4ZM254.7 291.8L256.9 294.0L254.7 296.2L252.5 294.0ZM254.8 294.4L257.0 296.6L254.8 298.8L252.6 296.6ZM255.0 297.0L257.2 299.2L255.0 301.4L252.8 299.2ZM255.1 299.6L257.3 301.8L255.1 304.0L252.9 301.8Z" fill="#10f0a8"/>
<polyline points="257.7,240.6 259.3,288.8" fill="none" stroke="#10f0a8" stroke-width="3.0" stroke-linejoin="round" stroke-linecap="round"/>
<path d="M257.7 237.4L259.9 239.6L257.7 241.8L255.5 239.6ZM257.8 239.9L260.0 242.1L257.8 244.3L255.6 242.1ZM257.9 242.4L260.1 244.6L257.9 246.8L255.7 244.6ZM257.9 244.9L260.1 247.1L257.9 249.3L255.7 247.1ZM258.0 247.4L260.2 249.6L258.0 251.8L255.8 249.6ZM258.1 250.0L260.3 252.2L258.1 254.3L255.9 252.2ZM258.2 252.5L260.4 254.7L258.2 256.9L256.0 254.7ZM258.3 255.0L260.5 257.2L258.3 259.4L256.1 257.2ZM258.3 257.5L260.5 259.7L258.3 261.9L256.1 259.7ZM258.4 260.0L260.6 262.2L258.4 264.4L256.2 262.2ZM258.5 262.5L260.7 264.7L258.5 266.9L256.3 264.7ZM258.6 265.0L260.8 267.2L258.6 269.4L256.4 267.2ZM258.7 267.5L260.9 269.7L258.7 271.9L256.5 269.7ZM258.7 270.0L260.9 272.2L258.7 274.4L256.5 272.2ZM258.8 272.5L261.0 274.7L258.8 276.9L256.6 274.7ZM258.9 275.1L261.1 277.2L258.9 279.4L256.7 277.2ZM259.0 277.6L261.2 279.8L259.0 282.0L256.8 279.8ZM259.1 280.1L261.3 282.3L259.1 284.5L256.9 282.3ZM259.1 282.6L261.3 284.8L259.1 287.0L256.9 284.8ZM259.2 285.1L261.4 287.3L259.2 289.5L257.0 287.3ZM259.3 287.6L261.5 289.8L259.3 292.0L257.1 289.8Z" fill="#10f0a8"/>
<polyline points="261.4,274.0 263.0,298.4" fill="none" stroke="#10f0a8" stroke-width="3.0" stroke-linejoin="round" stroke-linecap="round"/>
<path d="M261.4 270.8L263.6 273.0L261.4 275.2L259.2 273.0ZM261.6 273.4L263.8 275.6L261.6 277.8L259.4 275.6ZM261.7 276.1L263.9 278.3L261.7 280.5L259.5 278.3ZM261.9 278.7L264.1 280.9L261.9 283.1L259.7 280.9ZM262.0 281.4L264.2 283.6L262.0 285.8L259.8 283.6ZM262.2 284.0L264.4 286.2L262.2 288.4L260.0 286.2ZM262.4 286.6L264.6 288.8L262.4 291.0L260.2 288.8ZM262.5 289.3L264.7 291.5L262.5 293.7L260.3 291.5ZM262.7 291.9L264.9 294.1L262.7 296.3L260.5 294.1ZM262.8 294.6L265.0 296.8L262.8 299.0L260.6 296.8ZM263.0 297.2L265.2 299.4L263.0 301.6L260.8 299.4Z" fill="#10f0a8"/>
<polyline points="270.7,271.7 272.3,293.6" fill="none" stroke="#10f0a8" stroke-width="3.0" stroke-linejoin="round" stroke-linecap="round"/>
<path d="M270.7 268.5L272.9 270.7L270.7 272.9L268.5 270.7ZM270.9 271.2L273.1 273.4L270.9 275.6L268.7 273.4ZM271.1 273.8L273.3 276.0L271.1 278.2L268.9 276.0ZM271.2 276.5L273.4 278.7L271.2 280.9L269.0 278.7ZM271.4 279.1L273.6 281.3L271.4 283.5L269.2 281.3ZM271.6 281.8L273.8 284.0L271.6 286.2L269.4 284.0ZM271.8 284.4L274.0 286.6L271.8 288.8L269.6 286.6ZM271.9 287.1L274.1 289.3L271.9 291.5L269.7 289.3ZM272.1 289.7L274.3 291.9L272.1 294.1L269.9 291.9ZM272.3 292.4L274.5 294.6L272.3 296.8L270.1 294.6Z" fill="#10f0a8"/>
<polyline points="273.8,251.3 275.4,276.8" fill="none" stroke="#10f0a8" stroke-width="3.0" stroke-linejoin="round" stroke-linecap="round"/>
<path d="M273.8 248.1L276.0 250.3L273.8 252.5L271.6 250.3ZM273.9 250.6L276.1 252.8L273.9 255.0L271.7 252.8ZM274.1 253.1L276.3 255.3L274.1 257.5L271.9 255.3ZM274.2 255.6L276.4 257.8L274.2 260.0L272.0 257.8ZM274.4 258.1L276.6 260.3L274.4 262.5L272.2 260.3ZM274.5 260.6L276.7 262.8L274.5 265.0L272.3 262.8ZM274.7 263.1L276.9 265.3L274.7 267.5L272.5 265.3ZM274.8 265.6L277.0 267.8L274.8 270.0L272.6 267.8ZM275.0 268.1L277.2 270.3L275.0 272.5L272.8 270.3ZM275.1 270.6L277.3 272.8L275.1 275.0L272.9 272.8ZM275.3 273.1L277.5 275.3L275.3 277.5L273.1 275.3ZM275.4 275.6L277.6 277.8L275.4 280.0L273.2 277.8Z" fill="#10f0a8"/>
<polyline points="284.6,257.3 286.2,284.0" fill="none" stroke="#10f0a8" stroke-width="3.0" stroke-linejoin="round" stroke-linecap="round"/>
<path d="M284.6 254.1L286.8 256.3L284.6 258.5L282.4 256.3ZM284.7 256.7L286.9 258.9L284.7 261.1L282.5 258.9ZM284.9 259.3L287.1 261.5L284.9 263.7L282.7 261.5ZM285.0 261.9L287.2 264.1L285.0 266.3L282.8 264.1ZM285.2 264.5L287.4 266.7L285.2 268.9L283.0 266.7ZM285.3 267.1L287.5 269.3L285.3 271.5L283.1 269.3ZM285.5 269.8L287.7 272.0L285.5 274.2L283.3 272.0ZM285.6 272.4L287.8 274.6L285.6 276.8L283.4 274.6ZM285.8 275.0L288.0 277.2L285.8 279.4L283.6 277.2ZM285.9 277.6L288.1 279.8L285.9 282.0L283.7 279.8ZM286.1 280.2L288.3 282.4L286.1 284.6L283.9 282.4ZM286.2 282.8L288.4 285.0L286.2 287.2L284.0 285.0Z" fill="#10f0a8"/>
<polyline points="282.0,252.5 283.6,276.8" fill="none" stroke="#10f0a8" stroke-width="3.0" stroke-linejoin="round" stroke-linecap="round"/>
<path d="M282.0 249.3L284.2 251.5L282.0 253.7L279.8 251.5ZM282.2 251.9L284.4 254.1L282.2 256.3L280.0 254.1ZM282.3 254.6L284.5 256.8L282.3 259.0L280.1 256.8ZM282.5 257.2L284.7 259.4L282.5 261.6L280.3 259.4ZM282.6 259.8L284.8 262.0L282.6 264.2L280.4 262.0ZM282.8 262.4L285.0 264.6L282.8 266.8L280.6 264.6ZM283.0 265.1L285.2 267.3L283.0 269.5L280.8 267.3ZM283.1 267.7L285.3 269.9L283.1 272.1L280.9 269.9ZM283.3 270.3L285.5 272.5L283.3 274.7L281.1 272.5ZM283.4 273.0L285.6 275.2L283.4 277.4L281.2 275.2ZM283.6 275.6L285.8 277.8L283.6 280.0L281.4 277.8Z" fill="#10f0a8"/>
<polyline points="286.8,281.0 288.4,296.0" fill="none" stroke="#10f0a8" stroke-width="3.0" stroke-linejoin="round" stroke-linecap="round"/>
<path d="M286.8 277.8L289.0 280.0L286.8 282.2L284.6 280.0ZM287.1 280.6L289.3 282.8L287.1 285.0L284.9 282.8ZM287.3 283.5L289.5 285.7L287.3 287.9L285.1 285.7ZM287.6 286.3L289.8 288.5L287.6 290.7L285.4 288.5ZM287.9 289.1L290.1 291.3L287.9 293.5L285.7 291.3ZM288.1 292.0L290.3 294.2L288.1 296.4L285.9 294.2ZM288.4 294.8L290.6 297.0L288.4 299.2L286.2 297.0Z" fill="#10f0a8"/>
<polyline points="290.6,241.0 292.2,281.6" fill="none" stroke="#10f0a8" stroke-width="3.0" stroke-linejoin="round" stroke-linecap="round"/>
<path d="M290.6 237.8L292.8 240.0L290.6 242.2L288.4 240.0ZM290.7 240.3L292.9 242.5L290.7 244.7L288.5 242.5ZM290.8 242.8L293.0 245.0L290.8 247.2L288.6 245.0ZM290.9 245.3L293.1 247.5L290.9 249.7L288.7 247.5ZM291.0 247.8L293.2 250.0L291.0 252.2L288.8 250.0ZM291.1 250.3L293.3 252.5L291.1 254.7L288.9 252.5ZM291.2 252.8L293.4 255.0L291.2 257.2L289.0 255.0ZM291.3 255.3L293.5 257.5L291.3 259.7L289.1 257.5ZM291.4 257.8L293.6 260.0L291.4 262.2L289.2 260.0ZM291.4 260.4L293.6 262.6L291.4 264.8L289.2 262.6ZM291.5 262.9L293.7 265.1L291.5 267.3L289.3 265.1ZM291.6 265.4L293.8 267.6L291.6 269.8L289.4 267.6ZM291.7 267.9L293.9 270.1L291.7 272.3L289.5 270.1ZM291.8 270.4L294.0 272.6L291.8 274.8L289.6 272.6ZM291.9 272.9L294.1 275.1L291.9 277.3L289.7 275.1ZM292.0 275.4L294.2 277.6L292.0 279.8L289.8 277.6ZM292.1 277.9L294.3 280.1L292.1 282.3L289.9 280.1ZM292.2 280.4L294.4 282.6L292.2 284.8L290.0 282.6Z" fill="#10f0a8"/>
<polyline points="293.9,271.7 295.5,292.4" fill="none" stroke="#10f0a8" stroke-width="3.0" stroke-linejoin="round" stroke-linecap="round"/>
<path d="M293.9 268.5L296.1 270.7L293.9 272.9L291.7 270.7ZM294.1 271.0L296.3 273.2L294.1 275.4L291.9 273.2ZM294.3 273.5L296.5 275.7L294.3 277.9L292.1 275.7ZM294.4 276.1L296.6 278.3L294.4 280.5L292.2 278.3ZM294.6 278.6L296.8 280.8L294.6 283.0L292.4 280.8ZM294.8 281.1L297.0 283.3L294.8 285.5L292.6 283.3ZM295.0 283.6L297.2 285.8L295.0 288.0L292.8 285.8ZM295.1 286.2L297.3 288.4L295.1 290.6L292.9 288.4ZM295.3 288.7L297.5 290.9L295.3 293.1L293.1 290.9ZM295.5 291.2L297.7 293.4L295.5 295.6L293.3 293.4Z" fill="#10f0a8"/>
<polyline points="299.5,251.3 301.1,281.6" fill="none" stroke="#10f0a8" stroke-width="3.0" stroke-linejoin="round" stroke-linecap="round"/>
<path d="M299.5 248.1L301.7 250.3L299.5 252.5L297.3 250.3ZM299.6 250.8L301.8 253.0L299.6 255.2L297.4 253.0ZM299.8 253.5L302.0 255.7L299.8 257.9L297.6 255.7ZM299.9 256.2L302.1 258.4L299.9 260.6L297.7 258.4ZM300.0 258.9L302.2 261.1L300.0 263.3L297.8 261.1ZM300.2 261.6L302.4 263.8L300.2 266.0L298.0 263.8ZM300.3 264.3L302.5 266.5L300.3 268.7L298.1 266.5ZM300.4 266.9L302.6 269.1L300.4 271.3L298.2 269.1ZM300.6 269.6L302.8 271.8L300.6 274.0L298.4 271.8ZM300.7 272.3L302.9 274.5L300.7 276.7L298.5 274.5ZM300.8 275.0L303.0 277.2L300.8 279.4L298.6 277.2ZM301.0 277.7L303.2 279.9L301.0 282.1L298.8 279.9ZM301.1 280.4L303.3 282.6L301.1 284.8L298.9 282.6Z" fill="#10f0a8"/>
<polyline points="306.5,255.0 308.1,286.4" fill="none" stroke="#10f0a8" stroke-width="3.0" stroke-linejoin="round" stroke-linecap="round"/>
<path d="M306.5 251.8L308.7 254.0L306.5 256.2L304.3 254.0ZM306.6 254.4L308.8 256.6L306.6 258.8L304.4 256.6ZM306.7 256.9L308.9 259.1L306.7 261.3L304.5 259.1ZM306.9 259.5L309.1 261.7L306.9 263.9L304.7 261.7ZM307.0 262.1L309.2 264.3L307.0 266.5L304.8 264.3ZM307.1 264.6L309.3 266.8L307.1 269.0L304.9 266.8ZM307.2 267.2L309.4 269.4L307.2 271.6L305.0 269.4ZM307.4 269.8L309.6 272.0L307.4 274.2L305.2 272.0ZM307.5 272.4L309.7 274.6L307.5 276.8L305.3 274.6ZM307.6 274.9L309.8 277.1L307.6 279.3L305.4 277.1ZM307.7 277.5L309.9 279.7L307.7 281.9L305.5 279.7ZM307.9 280.1L310.1 282.3L307.9 284.5L305.7 282.3ZM308.0 282.6L310.2 284.8L308.0 287.0L305.8 284.8ZM308.1 285.2L310.3 287.4L308.1 289.6L305.9 287.4Z" fill="#10f0a8"/>
<polyline points="321.4,243.0 323.0,293.6" fill="none" stroke="#10f0a8" stroke-width="3.0" stroke-linejoin="round" stroke-linecap="round"/>
<path d="M321.4 239.8L323.6 242.0L321.4 244.2L319.2 242.0ZM321.5 242.3L323.7 244.5L321.5 246.7L319.3 244.5ZM321.6 244.8L323.8 247.0L321.6 249.2L319.4 247.0ZM321.6 247.3L323.8 249.5L321.6 251.7L319.4 249.5ZM321.7 249.8L323.9 252.0L321.7 254.2L319.5 252.0ZM321.8 252.3L324.0 254.5L321.8 256.7L319.6 254.5ZM321.9 254.8L324.1 257.0L321.9 259.2L319.7 257.0ZM321.9 257.3L324.1 259.5L321.9 261.7L319.7 259.5ZM322.0 259.8L324.2 262.0L322.0 264.2L319.8 262.0ZM322.1 262.3L324.3 264.5L322.1 266.7L319.9 264.5ZM322.2 264.8L324.4 267.0L322.2 269.2L320.0 267.0ZM322.2 267.4L324.4 269.6L322.2 271.8L320.0 269.6ZM322.3 269.9L324.5 272.1L322.3 274.3L320.1 272.1ZM322.4 272.4L324.6 274.6L322.4 276.8L320.2 274.6ZM322.5 274.9L324.7 277.1L322.5 279.3L320.3 277.1ZM322.5 277.4L324.7 279.6L322.5 281.8L320.3 279.6ZM322.6 279.9L324.8 282.1L322.6 284.3L320.4 282.1ZM322.7 282.4L324.9 284.6L322.7 286.8L320.5 284.6ZM322.8 284.9L325.0 287.1L322.8 289.3L320.6 287.1ZM322.8 287.4L325.0 289.6L322.8 291.8L320.6 289.6ZM322.9 289.9L325.1 292.1L322.9 294.3L320.7 292.1ZM323.0 292.4L325.2 294.6L323.0 296.8L320.8 294.6Z" fill="#10f0a8"/>
<polyline points="330.2,259.0 331.8,272.0" fill="none" stroke="#10f0a8" stroke-width="3.0" stroke-linejoin="round" stroke-linecap="round"/>
<path d="M330.2 255.8L332.4 258.0L330.2 260.2L328.0 258.0ZM330.5 258.3L332.7 260.5L330.5 262.7L328.3 260.5ZM330.7 260.8L332.9 263.0L330.7 265.2L328.5 263.0ZM331.0 263.3L333.2 265.5L331.0 267.7L328.8 265.5ZM331.3 265.8L333.5 268.0L331.3 270.2L329.1 268.0ZM331.5 268.3L333.7 270.5L331.5 272.7L329.3 270.5ZM331.8 270.8L334.0 273.0L331.8 275.2L329.6 273.0Z" fill="#10f0a8"/>
<polyline points="336.8,259.7 338.4,288.8" fill="none" stroke="#10f0a8" stroke-width="3.0" stroke-linejoin="round" stroke-linecap="round"/>
<path d="M336.8 256.5L339.0 258.7L336.8 260.9L334.6 258.7ZM336.9 259.1L339.1 261.3L336.9 263.5L334.7 261.3ZM337.1 261.7L339.3 263.9L337.1 266.1L334.9 263.9ZM337.2 264.3L339.4 266.5L337.2 268.7L335.0 266.5ZM337.3 266.9L339.5 269.1L337.3 271.3L335.1 269.1ZM337.5 269.5L339.7 271.7L337.5 273.9L335.3 271.7ZM337.6 272.1L339.8 274.2L337.6 276.4L335.4 274.2ZM337.7 274.6L339.9 276.8L337.7 279.0L335.5 276.8ZM337.9 277.2L340.1 279.4L337.9 281.6L335.7 279.4ZM338.0 279.8L340.2 282.0L338.0 284.2L335.8 282.0ZM338.1 282.4L340.3 284.6L338.1 286.8L335.9 284.6ZM338.3 285.0L340.5 287.2L338.3 289.4L336.1 287.2ZM338.4 287.6L340.6 289.8L338.4 292.0L336.2 289.8Z" fill="#10f0a8"/>
<polyline points="339.7,247.7 341.3,276.8" fill="none" stroke="#10f0a8" stroke-width="3.0" stroke-linejoin="round" stroke-linecap="round"/>
<path d="M339.7 244.5L341.9 246.7L339.7 248.9L337.5 246.7ZM339.8 247.1L342.0 249.3L339.8 251.5L337.6 249.3ZM340.0 249.7L342.2 251.9L340.0 254.1L337.8 251.9ZM340.1 252.3L342.3 254.5L340.1 256.7L337.9 254.5ZM340.2 254.9L342.4 257.1L340.2 259.3L338.0 257.1ZM340.4 257.5L342.6 259.7L340.4 261.9L338.2 259.7ZM340.5 260.1L342.7 262.2L340.5 264.4L338.3 262.2ZM340.6 262.6L342.8 264.8L340.6 267.0L338.4 264.8ZM340.8 265.2L343.0 267.4L340.8 269.6L338.6 267.4ZM340.9 267.8L343.1 270.0L340.9 272.2L338.7 270.0ZM341.0 270.4L343.2 272.6L341.0 274.8L338.8 272.6ZM341.2 273.0L343.4 275.2L341.2 277.4L339.0 275.2ZM341.3 275.6L343.5 277.8L341.3 280.0L339.1 277.8Z" fill="#10f0a8"/>
<polyline points="345.2,255.0 346.8,276.8" fill="none" stroke="#10f0a8" stroke-width="3.0" stroke-linejoin="round" stroke-linecap="round"/>
<path d="M345.2 251.8L347.4 254.0L345.2 256.2L343.0 254.0ZM345.4 254.4L347.6 256.6L345.4 258.8L343.2 256.6ZM345.6 257.1L347.8 259.3L345.6 261.5L343.4 259.3ZM345.7 259.7L347.9 261.9L345.7 264.1L343.5 261.9ZM345.9 262.4L348.1 264.6L345.9 266.8L343.7 264.6ZM346.1 265.0L348.3 267.2L346.1 269.4L343.9 267.2ZM346.3 267.7L348.5 269.9L346.3 272.1L344.1 269.9ZM346.4 270.3L348.6 272.5L346.4 274.7L344.2 272.5ZM346.6 273.0L348.8 275.2L346.6 277.4L344.4 275.2ZM346.8 275.6L349.0 277.8L346.8 280.0L344.6 277.8Z" fill="#10f0a8"/>
<polyline points="350.5,252.5 352.1,279.2" fill="none" stroke="#10f0a8" stroke-width="3.0" stroke-linejoin="round" stroke-linecap="round"/>
<path d="M350.5 249.3L352.7 251.5L350.5 253.7L348.3 251.5ZM350.6 251.9L352.8 254.1L350.6 256.3L348.4 254.1ZM350.8 254.5L353.0 256.7L350.8 258.9L348.6 256.7ZM350.9 257.1L353.1 259.3L350.9 261.5L348.7 259.3ZM351.1 259.7L353.3 261.9L351.1 264.1L348.9 261.9ZM351.2 262.3L353.4 264.5L351.2 266.7L349.0 264.5ZM351.4 265.0L353.6 267.2L351.4 269.4L349.2 267.2ZM351.5 267.6L353.7 269.8L351.5 272.0L349.3 269.8ZM351.7 270.2L353.9 272.4L351.7 274.6L349.5 272.4ZM351.8 272.8L354.0 275.0L351.8 277.2L349.6 275.0ZM352.0 275.4L354.2 277.6L352.0 279.8L349.8 277.6ZM352.1 278.0L354.3 280.2L352.1 282.4L349.9 280.2Z" fill="#10f0a8"/>
<polyline points="361.1,264.5 362.7,288.8" fill="none" stroke="#10f0a8" stroke-width="3.0" stroke-linejoin="round" stroke-linecap="round"/>
<path d="M361.1 261.3L363.3 263.5L361.1 265.7L358.9 263.5ZM361.3 263.9L363.5 266.1L361.3 268.3L359.1 266.1ZM361.4 266.6L363.6 268.8L361.4 271.0L359.2 268.8ZM361.6 269.2L363.8 271.4L361.6 273.6L359.4 271.4ZM361.7 271.8L363.9 274.0L361.7 276.2L359.5 274.0ZM361.9 274.4L364.1 276.6L361.9 278.8L359.7 276.6ZM362.1 277.1L364.3 279.3L362.1 281.5L359.9 279.3ZM362.2 279.7L364.4 281.9L362.2 284.1L360.0 281.9ZM362.4 282.3L364.6 284.5L362.4 286.7L360.2 284.5ZM362.5 285.0L364.7 287.2L362.5 289.4L360.3 287.2ZM362.7 287.6L364.9 289.8L362.7 292.0L360.5 289.8Z" fill="#10f0a8"/>
<polyline points="371.5,245.4 373.1,288.8" fill="none" stroke="#10f0a8" stroke-width="3.0" stroke-linejoin="round" stroke-linecap="round"/>
<path d="M371.5 242.2L373.7 244.4L371.5 246.6L369.3 244.4ZM371.6 244.7L373.8 246.9L371.6 249.1L369.4 246.9ZM371.7 247.2L373.9 249.4L371.7 251.6L369.5 249.4ZM371.8 249.8L374.0 252.0L371.8 254.2L369.6 252.0ZM371.9 252.3L374.1 254.5L371.9 256.7L369.7 254.5ZM371.9 254.8L374.1 257.0L371.9 259.2L369.7 257.0ZM372.0 257.3L374.2 259.5L372.0 261.7L369.8 259.5ZM372.1 259.9L374.3 262.1L372.1 264.3L369.9 262.1ZM372.2 262.4L374.4 264.6L372.2 266.8L370.0 264.6ZM372.3 264.9L374.5 267.1L372.3 269.3L370.1 267.1ZM372.4 267.4L374.6 269.6L372.4 271.8L370.2 269.6ZM372.5 269.9L374.7 272.1L372.5 274.3L370.3 272.1ZM372.6 272.5L374.8 274.7L372.6 276.9L370.4 274.7ZM372.7 275.0L374.9 277.2L372.7 279.4L370.5 277.2ZM372.7 277.5L374.9 279.7L372.7 281.9L370.5 279.7ZM372.8 280.0L375.0 282.2L372.8 284.4L370.6 282.2ZM372.9 282.6L375.1 284.8L372.9 287.0L370.7 284.8ZM373.0 285.1L375.2 287.3L373.0 289.5L370.8 287.3ZM373.1 287.6L375.3 289.8L373.1 292.0L370.9 289.8Z" fill="#10f0a8"/>
<polyline points="379.8,241.0 381.4,276.8" fill="none" stroke="#10f0a8" stroke-width="3.0" stroke-linejoin="round" stroke-linecap="round"/>
<path d="M379.8 237.8L382.0 240.0L379.8 242.2L377.6 240.0ZM379.9 240.3L382.1 242.5L379.9 244.7L377.7 242.5ZM380.0 242.8L382.2 245.0L380.0 247.2L377.8 245.0ZM380.1 245.4L382.3 247.6L380.1 249.8L377.9 247.6ZM380.2 247.9L382.4 250.1L380.2 252.3L378.0 250.1ZM380.3 250.4L382.5 252.6L380.3 254.8L378.1 252.6ZM380.4 252.9L382.6 255.1L380.4 257.3L378.2 255.1ZM380.5 255.4L382.7 257.6L380.5 259.8L378.3 257.6ZM380.7 258.0L382.9 260.2L380.7 262.4L378.5 260.2ZM380.8 260.5L383.0 262.7L380.8 264.9L378.6 262.7ZM380.9 263.0L383.1 265.2L380.9 267.4L378.7 265.2ZM381.0 265.5L383.2 267.7L381.0 269.9L378.8 267.7ZM381.1 268.0L383.3 270.2L381.1 272.4L378.9 270.2ZM381.2 270.6L383.4 272.8L381.2 275.0L379.0 272.8ZM381.3 273.1L383.5 275.3L381.3 277.5L379.1 275.3ZM381.4 275.6L383.6 277.8L381.4 280.0L379.2 277.8Z" fill="#10f0a8"/>
<polyline points="389.7,245.4 391.3,284.0" fill="none" stroke="#10f0a8" stroke-width="3.0" stroke-linejoin="round" stroke-linecap="round"/>
<path d="M389.7 242.2L391.9 244.4L389.7 246.6L387.5 244.4ZM389.8 244.7L392.0 246.9L389.8 249.1L387.6 246.9ZM389.9 247.3L392.1 249.5L389.9 251.7L387.7 249.5ZM390.0 249.8L392.2 252.0L390.0 254.2L387.8 252.0ZM390.1 252.4L392.3 254.6L390.1 256.8L387.9 254.6ZM390.2 254.9L392.4 257.1L390.2 259.3L388.0 257.1ZM390.3 257.4L392.5 259.6L390.3 261.8L388.1 259.6ZM390.4 260.0L392.6 262.2L390.4 264.4L388.2 262.2ZM390.5 262.5L392.7 264.7L390.5 266.9L388.3 264.7ZM390.6 265.0L392.8 267.2L390.6 269.4L388.4 267.2ZM390.7 267.6L392.9 269.8L390.7 272.0L388.5 269.8ZM390.8 270.1L393.0 272.3L390.8 274.5L388.6 272.3ZM390.9 272.7L393.1 274.9L390.9 277.1L388.7 274.9ZM391.0 275.2L393.2 277.4L391.0 279.6L388.8 277.4ZM391.1 277.7L393.3 279.9L391.1 282.1L388.9 279.9ZM391.2 280.3L393.4 282.5L391.2 284.7L389.0 282.5ZM391.3 282.8L393.5 285.0L391.3 287.2L389.1 285.0Z" fill="#10f0a8"/>
<polyline points="399.2,259.0 400.8,284.0" fill="none" stroke="#10f0a8" stroke-width="3.0" stroke-linejoin="round" stroke-linecap="round"/>
<path d="M399.2 255.8L401.4 258.0L399.2 260.2L397.0 258.0ZM399.4 258.5L401.6 260.7L399.4 262.9L397.2 260.7ZM399.5 261.2L401.7 263.4L399.5 265.6L397.3 263.4ZM399.7 263.9L401.9 266.1L399.7 268.3L397.5 266.1ZM399.8 266.6L402.0 268.8L399.8 271.0L397.6 268.8ZM400.0 269.3L402.2 271.5L400.0 273.7L397.8 271.5ZM400.2 272.0L402.4 274.2L400.2 276.4L398.0 274.2ZM400.3 274.7L402.5 276.9L400.3 279.1L398.1 276.9ZM400.5 277.4L402.7 279.6L400.5 281.8L398.3 279.6ZM400.6 280.1L402.8 282.3L400.6 284.5L398.4 282.3ZM400.8 282.8L403.0 285.0L400.8 287.2L398.6 285.0Z" fill="#10f0a8"/>
<polyline points="403.7,255.0 405.3,277.0" fill="none" stroke="#10f0a8" stroke-width="3.0" stroke-linejoin="round" stroke-linecap="round"/>
<path d="M403.7 251.8L405.9 254.0L403.7 256.2L401.5 254.0ZM403.9 254.5L406.1 256.7L403.9 258.9L401.7 256.7ZM404.1 257.1L406.3 259.3L404.1 261.5L401.9 259.3ZM404.2 259.8L406.4 262.0L404.2 264.2L402.0 262.0ZM404.4 262.5L406.6 264.7L404.4 266.9L402.2 264.7ZM404.6 265.1L406.8 267.3L404.6 269.5L402.4 267.3ZM404.8 267.8L407.0 270.0L404.8 272.2L402.6 270.0ZM404.9 270.5L407.1 272.7L404.9 274.9L402.7 272.7ZM405.1 273.1L407.3 275.3L405.1 277.5L402.9 275.3ZM405.3 275.8L407.5 278.0L405.3 280.2L403.1 278.0Z" fill="#10f0a8"/>
<polyline points="410.7,259.7 412.3,281.6" fill="none" stroke="#10f0a8" stroke-width="3.0" stroke-linejoin="round" stroke-linecap="round"/>
<path d="M410.7 256.5L412.9 258.7L410.7 260.9L408.5 258.7ZM410.9 259.2L413.1 261.4L410.9 263.6L408.7 261.4ZM411.1 261.8L413.3 264.0L411.1 266.2L408.9 264.0ZM411.2 264.5L413.4 266.7L411.2 268.9L409.0 266.7ZM411.4 267.1L413.6 269.3L411.4 271.5L409.2 269.3ZM411.6 269.8L413.8 272.0L411.6 274.2L409.4 272.0ZM411.8 272.4L414.0 274.6L411.8 276.8L409.6 274.6ZM411.9 275.1L414.1 277.3L411.9 279.5L409.7 277.3ZM412.1 277.7L414.3 279.9L412.1 282.1L409.9 279.9ZM412.3 280.4L414.5 282.6L412.3 284.8L410.1 282.6Z" fill="#10f0a8"/>
<polyline points="420.2,257.3 421.8,276.8" fill="none" stroke="#10f0a8" stroke-width="3.0" stroke-linejoin="round" stroke-linecap="round"/>
<path d="M420.2 254.1L422.4 256.3L420.2 258.5L418.0 256.3ZM420.4 256.8L422.6 259.0L420.4 261.2L418.2 259.0ZM420.6 259.5L422.8 261.7L420.6 263.9L418.4 261.7ZM420.8 262.2L423.0 264.4L420.8 266.6L418.6 264.4ZM421.0 264.9L423.2 267.1L421.0 269.2L418.8 267.1ZM421.2 267.5L423.4 269.7L421.2 271.9L419.0 269.7ZM421.4 270.2L423.6 272.4L421.4 274.6L419.2 272.4ZM421.6 272.9L423.8 275.1L421.6 277.3L419.4 275.1ZM421.8 275.6L424.0 277.8L421.8 280.0L419.6 277.8Z" fill="#10f0a8"/>
<polyline points="430.2,257.3 431.8,272.0" fill="none" stroke="#10f0a8" stroke-width="3.0" stroke-linejoin="round" stroke-linecap="round"/>
<path d="M430.2 254.1L432.4 256.3L430.2 258.5L428.0 256.3ZM430.5 256.9L432.7 259.1L430.5 261.3L428.3 259.1ZM430.7 259.7L432.9 261.9L430.7 264.1L428.5 261.9ZM431.0 262.4L433.2 264.6L431.0 266.8L428.8 264.6ZM431.3 265.2L433.5 267.4L431.3 269.6L429.1 267.4ZM431.5 268.0L433.7 270.2L431.5 272.4L429.3 270.2ZM431.8 270.8L434.0 273.0L431.8 275.2L429.6 273.0Z" fill="#10f0a8"/>
<polyline points="438.7,252.5 440.3,279.2" fill="none" stroke="#10f0a8" stroke-width="3.0" stroke-linejoin="round" stroke-linecap="round"/>
<path d="M438.7 249.3L440.9 251.5L438.7 253.7L436.5 251.5ZM438.8 251.9L441.0 254.1L438.8 256.3L436.6 254.1ZM439.0 254.5L441.2 256.7L439.0 258.9L436.8 256.7ZM439.1 257.1L441.3 259.3L439.1 261.5L436.9 259.3ZM439.3 259.7L441.5 261.9L439.3 264.1L437.1 261.9ZM439.4 262.3L441.6 264.5L439.4 266.7L437.2 264.5ZM439.6 265.0L441.8 267.2L439.6 269.4L437.4 267.2ZM439.7 267.6L441.9 269.8L439.7 272.0L437.5 269.8ZM439.9 270.2L442.1 272.4L439.9 274.6L437.7 272.4ZM440.0 272.8L442.2 275.0L440.0 277.2L437.8 275.0ZM440.2 275.4L442.4 277.6L440.2 279.8L438.0 277.6ZM440.3 278.0L442.5 280.2L440.3 282.4L438.1 280.2Z" fill="#10f0a8"/>
<polyline points="448.2,262.0 449.8,277.0" fill="none" stroke="#10f0a8" stroke-width="3.0" stroke-linejoin="round" stroke-linecap="round"/>
<path d="M448.2 258.8L450.4 261.0L448.2 263.2L446.0 261.0ZM448.5 261.6L450.7 263.8L448.5 266.0L446.3 263.8ZM448.7 264.5L450.9 266.7L448.7 268.9L446.5 266.7ZM449.0 267.3L451.2 269.5L449.0 271.7L446.8 269.5ZM449.3 270.1L451.5 272.3L449.3 274.5L447.1 272.3ZM449.5 273.0L451.7 275.2L449.5 277.4L447.3 275.2ZM449.8 275.8L452.0 278.0L449.8 280.2L447.6 278.0Z" fill="#10f0a8"/>
<polyline points="456.5,253.7 458.1,281.6" fill="none" stroke="#10f0a8" stroke-width="3.0" stroke-linejoin="round" stroke-linecap="round"/>
<path d="M456.5 250.5L458.7 252.7L456.5 254.9L454.3 252.7ZM456.6 253.2L458.8 255.4L456.6 257.6L454.4 255.4ZM456.8 255.9L459.0 258.1L456.8 260.3L454.6 258.1ZM456.9 258.7L459.1 260.9L456.9 263.1L454.7 260.9ZM457.1 261.4L459.3 263.6L457.1 265.8L454.9 263.6ZM457.2 264.1L459.4 266.3L457.2 268.5L455.0 266.3ZM457.4 266.8L459.6 269.0L457.4 271.2L455.2 269.0ZM457.5 269.5L459.7 271.7L457.5 273.9L455.3 271.7ZM457.7 272.2L459.9 274.4L457.7 276.6L455.5 274.4ZM457.8 275.0L460.0 277.2L457.8 279.4L455.6 277.2ZM458.0 277.7L460.2 279.9L458.0 282.1L455.8 279.9ZM458.1 280.4L460.3 282.6L458.1 284.8L455.9 282.6Z" fill="#10f0a8"/>
<polyline points="464.2,257.3 465.8,272.0" fill="none" stroke="#10f0a8" stroke-width="3.0" stroke-linejoin="round" stroke-linecap="round"/>
<path d="M464.2 254.1L466.4 256.3L464.2 258.5L462.0 256.3ZM464.5 256.9L466.7 259.1L464.5 261.3L462.3 259.1ZM464.7 259.7L466.9 261.9L464.7 264.1L462.5 261.9ZM465.0 262.4L467.2 264.6L465.0 266.8L462.8 264.6ZM465.3 265.2L467.5 267.4L465.3 269.6L463.1 267.4ZM465.5 268.0L467.7 270.2L465.5 272.4L463.3 270.2ZM465.8 270.8L468.0 273.0L465.8 275.2L463.6 273.0Z" fill="#10f0a8"/>
<polyline points="472.7,245.4 474.3,288.8" fill="none" stroke="#10f0a8" stroke-width="3.0" stroke-linejoin="round" stroke-linecap="round"/>
<path d="M472.7 242.2L474.9 244.4L472.7 246.6L470.5 244.4ZM472.8 244.7L475.0 246.9L472.8 249.1L470.6 246.9ZM472.9 247.2L475.1 249.4L472.9 251.6L470.7 249.4ZM473.0 249.8L475.2 252.0L473.0 254.2L470.8 252.0ZM473.1 252.3L475.3 254.5L473.1 256.7L470.9 254.5ZM473.1 254.8L475.3 257.0L473.1 259.2L470.9 257.0ZM473.2 257.3L475.4 259.5L473.2 261.7L471.0 259.5ZM473.3 259.9L475.5 262.1L473.3 264.3L471.1 262.1ZM473.4 262.4L475.6 264.6L473.4 266.8L471.2 264.6ZM473.5 264.9L475.7 267.1L473.5 269.3L471.3 267.1ZM473.6 267.4L475.8 269.6L473.6 271.8L471.4 269.6ZM473.7 269.9L475.9 272.1L473.7 274.3L471.5 272.1ZM473.8 272.5L476.0 274.7L473.8 276.9L471.6 274.7ZM473.9 275.0L476.1 277.2L473.9 279.4L471.7 277.2ZM473.9 277.5L476.1 279.7L473.9 281.9L471.7 279.7ZM474.0 280.0L476.2 282.2L474.0 284.4L471.8 282.2ZM474.1 282.6L476.3 284.8L474.1 287.0L471.9 284.8ZM474.2 285.1L476.4 287.3L474.2 289.5L472.0 287.3ZM474.3 287.6L476.5 289.8L474.3 292.0L472.1 289.8Z" fill="#10f0a8"/>
<polyline points="478.2,259.7 479.8,277.0" fill="none" stroke="#10f0a8" stroke-width="3.0" stroke-linejoin="round" stroke-linecap="round"/>
<path d="M478.2 256.5L480.4 258.7L478.2 260.9L476.0 258.7ZM478.4 259.3L480.6 261.5L478.4 263.7L476.2 261.5ZM478.7 262.0L480.9 264.2L478.7 266.4L476.5 264.2ZM478.9 264.8L481.1 267.0L478.9 269.2L476.7 267.0ZM479.1 267.5L481.3 269.7L479.1 271.9L476.9 269.7ZM479.3 270.3L481.5 272.5L479.3 274.7L477.1 272.5ZM479.6 273.0L481.8 275.2L479.6 277.4L477.4 275.2ZM479.8 275.8L482.0 278.0L479.8 280.2L477.6 278.0Z" fill="#10f0a8"/>
<polyline points="486.2,262.0 487.8,277.0" fill="none" stroke="#10f0a8" stroke-width="3.0" stroke-linejoin="round" stroke-linecap="round"/>
<path d="M486.2 258.8L488.4 261.0L486.2 263.2L484.0 261.0ZM486.5 261.6L488.7 263.8L486.5 266.0L484.3 263.8ZM486.7 264.5L488.9 266.7L486.7 268.9L484.5 266.7ZM487.0 267.3L489.2 269.5L487.0 271.7L484.8 269.5ZM487.3 270.1L489.5 272.3L487.3 274.5L485.1 272.3ZM487.5 273.0L489.7 275.2L487.5 277.4L485.3 275.2ZM487.8 275.8L490.0 278.0L487.8 280.2L485.6 278.0Z" fill="#10f0a8"/>
<polyline points="506.7,252.5 508.3,274.5" fill="none" stroke="#10f0a8" stroke-width="3.0" stroke-linejoin="round" stroke-linecap="round"/>
<path d="M506.7 249.3L508.9 251.5L506.7 253.7L504.5 251.5ZM506.9 252.0L509.1 254.2L506.9 256.4L504.7 254.2ZM507.1 254.6L509.3 256.8L507.1 259.0L504.9 256.8ZM507.2 257.3L509.4 259.5L507.2 261.7L505.0 259.5ZM507.4 260.0L509.6 262.2L507.4 264.4L505.2 262.2ZM507.6 262.6L509.8 264.8L507.6 267.0L505.4 264.8ZM507.8 265.3L510.0 267.5L507.8 269.7L505.6 267.5ZM507.9 268.0L510.1 270.2L507.9 272.4L505.7 270.2ZM508.1 270.6L510.3 272.8L508.1 275.0L505.9 272.8ZM508.3 273.3L510.5 275.5L508.3 277.7L506.1 275.5Z" fill="#10f0a8"/>
<polyline points="522.3,251.3 523.9,286.4" fill="none" stroke="#10f0a8" stroke-width="3.0" stroke-linejoin="round" stroke-linecap="round"/>
<path d="M522.3 248.1L524.5 250.3L522.3 252.5L520.1 250.3ZM522.4 250.8L524.6 253.0L522.4 255.2L520.2 253.0ZM522.5 253.4L524.7 255.6L522.5 257.8L520.3 255.6ZM522.6 256.1L524.8 258.2L522.6 260.4L520.4 258.2ZM522.8 258.7L525.0 260.9L522.8 263.1L520.6 260.9ZM522.9 261.4L525.1 263.6L522.9 265.8L520.7 263.6ZM523.0 264.0L525.2 266.2L523.0 268.4L520.8 266.2ZM523.1 266.7L525.3 268.9L523.1 271.1L520.9 268.9ZM523.2 269.3L525.4 271.5L523.2 273.7L521.0 271.5ZM523.3 271.9L525.5 274.1L523.3 276.3L521.1 274.1ZM523.4 274.6L525.6 276.8L523.4 279.0L521.2 276.8ZM523.6 277.2L525.8 279.4L523.6 281.6L521.4 279.4ZM523.7 279.9L525.9 282.1L523.7 284.3L521.5 282.1ZM523.8 282.6L526.0 284.8L523.8 286.9L521.6 284.8ZM523.9 285.2L526.1 287.4L523.9 289.6L521.7 287.4Z" fill="#10f0a8"/>
<polyline points="527.2,262.0 528.8,284.0" fill="none" stroke="#10f0a8" stroke-width="3.0" stroke-linejoin="round" stroke-linecap="round"/>
<path d="M527.2 258.8L529.4 261.0L527.2 263.2L525.0 261.0ZM527.4 261.5L529.6 263.7L527.4 265.9L525.2 263.7ZM527.6 264.1L529.8 266.3L527.6 268.5L525.4 266.3ZM527.7 266.8L529.9 269.0L527.7 271.2L525.5 269.0ZM527.9 269.5L530.1 271.7L527.9 273.9L525.7 271.7ZM528.1 272.1L530.3 274.3L528.1 276.5L525.9 274.3ZM528.3 274.8L530.5 277.0L528.3 279.2L526.1 277.0ZM528.4 277.5L530.6 279.7L528.4 281.9L526.2 279.7ZM528.6 280.1L530.8 282.3L528.6 284.5L526.4 282.3ZM528.8 282.8L531.0 285.0L528.8 287.2L526.6 285.0Z" fill="#10f0a8"/>
<polyline points="542.2,255.0 543.8,270.0" fill="none" stroke="#10f0a8" stroke-width="3.0" stroke-linejoin="round" stroke-linecap="round"/>
<path d="M542.2 251.8L544.4 254.0L542.2 256.2L540.0 254.0ZM542.5 254.6L544.7 256.8L542.5 259.0L540.3 256.8ZM542.7 257.5L544.9 259.7L542.7 261.9L540.5 259.7ZM543.0 260.3L545.2 262.5L543.0 264.7L540.8 262.5ZM543.3 263.1L545.5 265.3L543.3 267.5L541.1 265.3ZM543.5 266.0L545.7 268.2L543.5 270.4L541.3 268.2ZM543.8 268.8L546.0 271.0L543.8 273.2L541.6 271.0Z" fill="#10f0a8"/>
<path d="M291.4 231.4L293.6 233.6L291.4 235.8L289.2 233.6ZM291.5 235.1L293.7 237.3L291.5 239.5L289.3 237.3ZM291.7 238.8L293.9 241.0L291.7 243.2L289.5 241.0Z" fill="#10f0a8"/>
<path d="M380.6 232.6L382.8 234.8L380.6 237.0L378.4 234.8ZM380.9 238.8L383.1 241.0L380.9 243.2L378.7 241.0Z" fill="#10f0a8"/>
<path d="M381.6 230.2L383.8 232.4L381.6 234.6L379.4 232.4ZM381.7 233.6L383.9 235.8L381.7 238.0L379.5 235.8ZM381.8 237.0L383.9 239.2L381.8 241.4L379.6 239.2ZM381.8 240.4L384.0 242.6L381.8 244.8L379.6 242.6ZM381.9 243.8L384.1 246.0L381.9 248.2L379.7 246.0Z" fill="#10f0a8"/>
<polyline points="246.2,254.6 247.8,282.2" fill="none" stroke="#10f0a8" stroke-width="3.0" stroke-linejoin="round" stroke-linecap="round"/>
<path d="M246.2 251.4L248.4 253.6L246.2 255.8L244.0 253.6ZM246.3 254.1L248.5 256.3L246.3 258.5L244.1 256.3ZM246.5 256.8L248.7 259.0L246.5 261.2L244.3 259.0ZM246.6 259.5L248.8 261.7L246.6 263.9L244.4 261.7ZM246.8 262.2L249.0 264.4L246.8 266.6L244.6 264.4ZM246.9 264.9L249.1 267.1L246.9 269.3L244.7 267.1ZM247.1 267.6L249.3 269.8L247.1 272.0L244.9 269.8ZM247.2 270.3L249.4 272.5L247.2 274.7L245.0 272.5ZM247.4 272.9L249.6 275.1L247.4 277.3L245.2 275.1ZM247.5 275.6L249.7 277.8L247.5 280.0L245.3 277.8ZM247.7 278.3L249.9 280.5L247.7 282.7L245.5 280.5ZM247.8 281.0L250.0 283.2L247.8 285.4L245.6 283.2Z" fill="#10f0a8"/>
<polyline points="254.7,257.8 256.3,277.9" fill="none" stroke="#10f0a8" stroke-width="3.0" stroke-linejoin="round" stroke-linecap="round"/>
<path d="M254.7 254.6L256.9 256.8L254.7 259.0L252.5 256.8ZM254.9 257.4L257.1 259.6L254.9 261.8L252.7 259.6ZM255.1 260.1L257.3 262.3L255.1 264.5L252.9 262.3ZM255.3 262.9L257.5 265.1L255.3 267.3L253.1 265.1ZM255.5 265.7L257.7 267.9L255.5 270.1L253.3 267.9ZM255.7 268.4L257.9 270.6L255.7 272.8L253.5 270.6ZM255.9 271.2L258.1 273.4L255.9 275.6L253.7 273.4ZM256.1 274.0L258.3 276.2L256.1 278.4L253.9 276.2ZM256.3 276.7L258.5 278.9L256.3 281.1L254.1 278.9Z" fill="#10f0a8"/>
<polyline points="263.9,261.1 265.5,280.6" fill="none" stroke="#10f0a8" stroke-width="3.0" stroke-linejoin="round" stroke-linecap="round"/>
<path d="M263.9 257.9L266.1 260.1L263.9 262.3L261.7 260.1ZM264.1 260.6L266.3 262.8L264.1 265.0L261.9 262.8ZM264.3 263.3L266.5 265.5L264.3 267.7L262.1 265.5ZM264.5 266.0L266.7 268.2L264.5 270.4L262.3 268.2ZM264.7 268.6L266.9 270.8L264.7 273.0L262.5 270.8ZM264.9 271.3L267.1 273.5L264.9 275.7L262.7 273.5ZM265.1 274.0L267.3 276.2L265.1 278.4L262.9 276.2ZM265.3 276.7L267.5 278.9L265.3 281.1L263.1 278.9ZM265.5 279.4L267.7 281.6L265.5 283.8L263.3 281.6Z" fill="#10f0a8"/>
<polyline points="271.9,255.4 273.5,276.0" fill="none" stroke="#10f0a8" stroke-width="3.0" stroke-linejoin="round" stroke-linecap="round"/>
<path d="M271.9 252.2L274.1 254.4L271.9 256.6L269.7 254.4ZM272.1 254.7L274.3 256.9L272.1 259.1L269.9 256.9ZM272.3 257.2L274.5 259.4L272.3 261.6L270.1 259.4ZM272.5 259.7L274.7 261.9L272.5 264.1L270.3 261.9ZM272.6 262.2L274.8 264.4L272.6 266.6L270.4 264.4ZM272.8 264.8L275.0 267.0L272.8 269.2L270.6 267.0ZM273.0 267.3L275.2 269.5L273.0 271.7L270.8 269.5ZM273.2 269.8L275.4 272.0L273.2 274.2L271.0 272.0ZM273.4 272.3L275.6 274.5L273.4 276.7L271.2 274.5ZM273.5 274.8L275.7 277.0L273.5 279.2L271.3 277.0Z" fill="#10f0a8"/>
<polyline points="279.4,258.9 281.0,276.6" fill="none" stroke="#10f0a8" stroke-width="3.0" stroke-linejoin="round" stroke-linecap="round"/>
<path d="M279.4 255.7L281.6 257.9L279.4 260.1L277.2 257.9ZM279.6 258.5L281.8 260.7L279.6 262.9L277.4 260.7ZM279.9 261.3L282.1 263.5L279.9 265.7L277.7 263.5ZM280.1 264.1L282.3 266.3L280.1 268.5L277.9 266.3ZM280.3 267.0L282.5 269.2L280.3 271.4L278.1 269.2ZM280.6 269.8L282.8 272.0L280.6 274.2L278.4 272.0ZM280.8 272.6L283.0 274.8L280.8 277.0L278.6 274.8ZM281.0 275.4L283.2 277.6L281.0 279.8L278.8 277.6Z" fill="#10f0a8"/>
<polyline points="288.6,255.3 290.2,278.1" fill="none" stroke="#10f0a8" stroke-width="3.0" stroke-linejoin="round" stroke-linecap="round"/>
<path d="M288.6 252.1L290.8 254.3L288.6 256.5L286.4 254.3ZM288.8 254.9L291.0 257.1L288.8 259.3L286.6 257.1ZM288.9 257.6L291.1 259.8L288.9 262.0L286.7 259.8ZM289.1 260.4L291.3 262.6L289.1 264.8L286.9 262.6ZM289.3 263.1L291.5 265.3L289.3 267.5L287.1 265.3ZM289.5 265.9L291.7 268.1L289.5 270.3L287.3 268.1ZM289.7 268.6L291.9 270.8L289.7 273.0L287.5 270.8ZM289.8 271.4L292.0 273.6L289.8 275.8L287.6 273.6ZM290.0 274.1L292.2 276.3L290.0 278.5L287.8 276.3ZM290.2 276.9L292.4 279.1L290.2 281.3L288.0 279.1Z" fill="#10f0a8"/>
<polyline points="294.8,263.0 296.4,282.6" fill="none" stroke="#10f0a8" stroke-width="3.0" stroke-linejoin="round" stroke-linecap="round"/>
<path d="M294.8 259.8L297.0 262.0L294.8 264.2L292.6 262.0ZM295.0 262.5L297.2 264.7L295.0 266.9L292.8 264.7ZM295.2 265.2L297.4 267.4L295.2 269.6L293.0 267.4ZM295.4 267.9L297.6 270.1L295.4 272.3L293.2 270.1ZM295.6 270.6L297.8 272.8L295.6 275.0L293.4 272.8ZM295.8 273.3L298.0 275.5L295.8 277.7L293.6 275.5ZM296.0 276.0L298.2 278.2L296.0 280.4L293.8 278.2ZM296.2 278.7L298.4 280.9L296.2 283.1L294.0 280.9ZM296.4 281.4L298.6 283.6L296.4 285.8L294.2 283.6Z" fill="#10f0a8"/>
<polyline points="304.3,259.2 305.9,276.3" fill="none" stroke="#10f0a8" stroke-width="3.0" stroke-linejoin="round" stroke-linecap="round"/>
<path d="M304.3 256.0L306.5 258.2L304.3 260.4L302.1 258.2ZM304.5 258.7L306.7 260.9L304.5 263.1L302.3 260.9ZM304.7 261.4L306.9 263.6L304.7 265.8L302.5 263.6ZM304.9 264.2L307.1 266.4L304.9 268.6L302.7 266.4ZM305.2 266.9L307.4 269.1L305.2 271.3L303.0 269.1ZM305.4 269.6L307.6 271.8L305.4 274.0L303.2 271.8ZM305.6 272.4L307.8 274.6L305.6 276.8L303.4 274.6ZM305.9 275.1L308.1 277.3L305.9 279.5L303.7 277.3Z" fill="#10f0a8"/>
<polyline points="311.6,258.0 313.2,277.0" fill="none" stroke="#10f0a8" stroke-width="3.0" stroke-linejoin="round" stroke-linecap="round"/>
<path d="M311.6 254.8L313.8 257.0L311.6 259.2L309.4 257.0ZM311.8 257.4L314.0 259.6L311.8 261.8L309.6 259.6ZM312.0 260.0L314.2 262.2L312.0 264.4L309.8 262.2ZM312.2 262.7L314.4 264.9L312.2 267.1L310.0 264.9ZM312.4 265.3L314.6 267.5L312.4 269.7L310.2 267.5ZM312.6 267.9L314.8 270.1L312.6 272.3L310.4 270.1ZM312.8 270.6L315.0 272.8L312.8 275.0L310.6 272.8ZM313.0 273.2L315.2 275.4L313.0 277.6L310.8 275.4ZM313.2 275.8L315.4 278.0L313.2 280.2L311.0 278.0Z" fill="#10f0a8"/>
<polyline points="321.4,256.7 323.0,277.4" fill="none" stroke="#10f0a8" stroke-width="3.0" stroke-linejoin="round" stroke-linecap="round"/>
<path d="M321.4 253.5L323.6 255.7L321.4 257.9L319.2 255.7ZM321.6 256.0L323.8 258.2L321.6 260.4L319.4 258.2ZM321.7 258.5L323.9 260.7L321.7 262.9L319.5 260.7ZM321.9 261.1L324.1 263.3L321.9 265.5L319.7 263.3ZM322.1 263.6L324.3 265.8L322.1 268.0L319.9 265.8ZM322.3 266.1L324.5 268.3L322.3 270.5L320.1 268.3ZM322.4 268.6L324.6 270.8L322.4 273.0L320.2 270.8ZM322.6 271.1L324.8 273.3L322.6 275.5L320.4 273.3ZM322.8 273.7L325.0 275.9L322.8 278.1L320.6 275.9ZM323.0 276.2L325.2 278.4L323.0 280.6L320.8 278.4Z" fill="#10f0a8"/>
<polyline points="330.7,254.2 332.3,284.4" fill="none" stroke="#10f0a8" stroke-width="3.0" stroke-linejoin="round" stroke-linecap="round"/>
<path d="M330.7 251.0L332.9 253.2L330.7 255.4L328.5 253.2ZM330.8 253.7L333.0 255.9L330.8 258.1L328.6 255.9ZM330.9 256.4L333.1 258.6L330.9 260.8L328.7 258.6ZM331.1 259.1L333.3 261.3L331.1 263.5L328.9 261.3ZM331.2 261.7L333.4 263.9L331.2 266.1L329.0 263.9ZM331.3 264.4L333.5 266.6L331.3 268.8L329.1 266.6ZM331.5 267.1L333.7 269.3L331.5 271.5L329.3 269.3ZM331.6 269.8L333.8 272.0L331.6 274.2L329.4 272.0ZM331.7 272.5L333.9 274.7L331.7 276.9L329.5 274.7ZM331.9 275.1L334.1 277.3L331.9 279.5L329.7 277.3ZM332.0 277.8L334.2 280.0L332.0 282.2L329.8 280.0ZM332.1 280.5L334.3 282.7L332.1 284.9L329.9 282.7ZM332.3 283.2L334.5 285.4L332.3 287.6L330.1 285.4Z" fill="#10f0a8"/>
<polyline points="338.5,258.5 340.1,279.1" fill="none" stroke="#10f0a8" stroke-width="3.0" stroke-linejoin="round" stroke-linecap="round"/>
<path d="M338.5 255.3L340.7 257.5L338.5 259.7L336.3 257.5ZM338.6 257.8L340.8 260.0L338.6 262.2L336.4 260.0ZM338.8 260.3L341.0 262.5L338.8 264.7L336.6 262.5ZM339.0 262.8L341.2 265.0L339.0 267.2L336.8 265.0ZM339.2 265.3L341.4 267.5L339.2 269.7L337.0 267.5ZM339.4 267.9L341.6 270.1L339.4 272.3L337.2 270.1ZM339.5 270.4L341.7 272.6L339.5 274.8L337.3 272.6ZM339.7 272.9L341.9 275.1L339.7 277.3L337.5 275.1ZM339.9 275.4L342.1 277.6L339.9 279.8L337.7 277.6ZM340.1 277.9L342.3 280.1L340.1 282.3L337.9 280.1Z" fill="#10f0a8"/>
<polyline points="346.4,254.9 348.0,276.3" fill="none" stroke="#10f0a8" stroke-width="3.0" stroke-linejoin="round" stroke-linecap="round"/>
<path d="M346.4 251.7L348.6 253.9L346.4 256.1L344.2 253.9ZM346.6 254.3L348.8 256.5L346.6 258.7L344.4 256.5ZM346.8 256.9L349.0 259.1L346.8 261.3L344.6 259.1ZM346.9 259.5L349.1 261.7L346.9 263.9L344.7 261.7ZM347.1 262.1L349.3 264.3L347.1 266.5L344.9 264.3ZM347.3 264.7L349.5 266.9L347.3 269.1L345.1 266.9ZM347.5 267.3L349.7 269.5L347.5 271.7L345.3 269.5ZM347.6 269.9L349.8 272.1L347.6 274.3L345.4 272.1ZM347.8 272.5L350.0 274.7L347.8 276.9L345.6 274.7ZM348.0 275.1L350.2 277.3L348.0 279.5L345.8 277.3Z" fill="#10f0a8"/>
<polyline points="355.9,255.3 357.5,283.0" fill="none" stroke="#10f0a8" stroke-width="3.0" stroke-linejoin="round" stroke-linecap="round"/>
<path d="M355.9 252.1L358.1 254.3L355.9 256.5L353.7 254.3ZM356.0 254.8L358.2 257.0L356.0 259.2L353.8 257.0ZM356.2 257.5L358.4 259.7L356.2 261.9L354.0 259.7ZM356.3 260.2L358.5 262.4L356.3 264.6L354.1 262.4ZM356.4 262.9L358.6 265.1L356.4 267.3L354.2 265.1ZM356.6 265.6L358.8 267.8L356.6 270.0L354.4 267.8ZM356.7 268.3L358.9 270.5L356.7 272.7L354.5 270.5ZM356.9 271.0L359.1 273.2L356.9 275.4L354.7 273.2ZM357.0 273.7L359.2 275.9L357.0 278.1L354.8 275.9ZM357.2 276.4L359.4 278.6L357.2 280.8L355.0 278.6ZM357.3 279.1L359.5 281.3L357.3 283.5L355.1 281.3ZM357.5 281.8L359.7 284.0L357.5 286.2L355.3 284.0Z" fill="#10f0a8"/>
<polyline points="362.7,262.7 364.3,284.0" fill="none" stroke="#10f0a8" stroke-width="3.0" stroke-linejoin="round" stroke-linecap="round"/>
<path d="M362.7 259.5L364.9 261.7L362.7 263.9L360.5 261.7ZM362.9 262.1L365.1 264.3L362.9 266.5L360.7 264.3ZM363.1 264.7L365.3 266.9L363.1 269.1L360.9 266.9ZM363.2 267.3L365.4 269.5L363.2 271.7L361.0 269.5ZM363.4 269.9L365.6 272.1L363.4 274.3L361.2 272.1ZM363.6 272.5L365.8 274.7L363.6 276.9L361.4 274.7ZM363.8 275.1L366.0 277.3L363.8 279.5L361.6 277.3ZM363.9 277.7L366.1 279.9L363.9 282.1L361.7 279.9ZM364.1 280.3L366.3 282.5L364.1 284.7L361.9 282.5ZM364.3 282.8L366.5 285.0L364.3 287.2L362.1 285.0Z" fill="#10f0a8"/>
<polyline points="371.7,260.6 373.3,281.2" fill="none" stroke="#10f0a8" stroke-width="3.0" stroke-linejoin="round" stroke-linecap="round"/>
<path d="M371.7 257.4L373.9 259.6L371.7 261.8L369.5 259.6ZM371.9 259.9L374.1 262.1L371.9 264.3L369.7 262.1ZM372.1 262.4L374.3 264.6L372.1 266.8L369.9 264.6ZM372.3 265.0L374.5 267.2L372.3 269.4L370.1 267.2ZM372.4 267.5L374.6 269.7L372.4 271.9L370.2 269.7ZM372.6 270.0L374.8 272.2L372.6 274.4L370.4 272.2ZM372.8 272.5L375.0 274.7L372.8 276.9L370.6 274.7ZM373.0 275.0L375.2 277.2L373.0 279.4L370.8 277.2ZM373.1 277.5L375.3 279.7L373.1 281.9L370.9 279.7ZM373.3 280.0L375.5 282.2L373.3 284.4L371.1 282.2Z" fill="#10f0a8"/>
<polyline points="380.6,254.2 382.2,280.3" fill="none" stroke="#10f0a8" stroke-width="3.0" stroke-linejoin="round" stroke-linecap="round"/>
<path d="M380.6 251.0L382.8 253.2L380.6 255.4L378.4 253.2ZM380.8 253.6L383.0 255.8L380.8 258.0L378.6 255.8ZM380.9 256.1L383.1 258.3L380.9 260.5L378.7 258.3ZM381.1 258.7L383.3 260.9L381.1 263.1L378.9 260.9ZM381.2 261.2L383.4 263.4L381.2 265.6L379.0 263.4ZM381.4 263.8L383.6 266.0L381.4 268.2L379.2 266.0ZM381.5 266.3L383.7 268.5L381.5 270.7L379.3 268.5ZM381.7 268.9L383.9 271.1L381.7 273.3L379.5 271.1ZM381.8 271.4L384.0 273.6L381.8 275.8L379.6 273.6ZM381.9 274.0L384.1 276.2L381.9 278.4L379.7 276.2ZM382.1 276.5L384.3 278.7L382.1 280.9L379.9 278.7ZM382.2 279.1L384.4 281.3L382.2 283.5L380.0 281.3Z" fill="#10f0a8"/>
<polyline points="389.9,255.0 391.5,284.3" fill="none" stroke="#10f0a8" stroke-width="3.0" stroke-linejoin="round" stroke-linecap="round"/>
<path d="M389.9 251.8L392.1 254.0L389.9 256.2L387.7 254.0ZM390.1 254.4L392.3 256.6L390.1 258.8L387.9 256.6ZM390.2 257.0L392.4 259.2L390.2 261.4L388.0 259.2ZM390.3 259.6L392.5 261.8L390.3 264.0L388.1 261.8ZM390.5 262.2L392.7 264.4L390.5 266.6L388.3 264.4ZM390.6 264.9L392.8 267.1L390.6 269.3L388.4 267.1ZM390.7 267.5L392.9 269.7L390.7 271.9L388.5 269.7ZM390.9 270.1L393.1 272.3L390.9 274.5L388.7 272.3ZM391.0 272.7L393.2 274.9L391.0 277.1L388.8 274.9ZM391.1 275.3L393.3 277.5L391.1 279.7L388.9 277.5ZM391.3 277.9L393.5 280.1L391.3 282.3L389.1 280.1ZM391.4 280.5L393.6 282.7L391.4 284.9L389.2 282.7ZM391.5 283.1L393.7 285.3L391.5 287.5L389.3 285.3Z" fill="#10f0a8"/>
<polyline points="399.5,257.1 401.1,279.3" fill="none" stroke="#10f0a8" stroke-width="3.0" stroke-linejoin="round" stroke-linecap="round"/>
<path d="M399.5 253.9L401.7 256.1L399.5 258.3L397.3 256.1ZM399.7 256.6L401.9 258.8L399.7 261.0L397.5 258.8ZM399.9 259.3L402.1 261.5L399.9 263.7L397.7 261.5ZM400.0 262.0L402.2 264.2L400.0 266.4L397.8 264.2ZM400.2 264.6L402.4 266.8L400.2 269.0L398.0 266.8ZM400.4 267.3L402.6 269.5L400.4 271.7L398.2 269.5ZM400.6 270.0L402.8 272.2L400.6 274.4L398.4 272.2ZM400.7 272.7L402.9 274.9L400.7 277.1L398.5 274.9ZM400.9 275.4L403.1 277.6L400.9 279.8L398.7 277.6ZM401.1 278.1L403.3 280.3L401.1 282.5L398.9 280.3Z" fill="#10f0a8"/>
<polyline points="407.3,256.9 408.9,285.0" fill="none" stroke="#10f0a8" stroke-width="3.0" stroke-linejoin="round" stroke-linecap="round"/>
<path d="M407.3 253.7L409.5 255.9L407.3 258.1L405.1 255.9ZM407.4 256.2L409.6 258.4L407.4 260.6L405.2 258.4ZM407.6 258.7L409.8 260.9L407.6 263.1L405.4 260.9ZM407.7 261.2L409.9 263.4L407.7 265.6L405.5 263.4ZM407.8 263.7L410.0 265.9L407.8 268.1L405.6 265.9ZM408.0 266.2L410.2 268.4L408.0 270.6L405.8 268.4ZM408.1 268.7L410.3 270.9L408.1 273.1L405.9 270.9ZM408.2 271.2L410.4 273.4L408.2 275.6L406.0 273.4ZM408.4 273.7L410.6 275.9L408.4 278.1L406.2 275.9ZM408.5 276.2L410.7 278.4L408.5 280.6L406.3 278.4ZM408.6 278.7L410.8 280.9L408.6 283.1L406.4 280.9ZM408.8 281.2L411.0 283.4L408.8 285.6L406.6 283.4ZM408.9 283.8L411.1 286.0L408.9 288.2L406.7 286.0Z" fill="#10f0a8"/>
<polyline points="414.9,253.3 416.5,276.8" fill="none" stroke="#10f0a8" stroke-width="3.0" stroke-linejoin="round" stroke-linecap="round"/>
<path d="M414.9 250.1L417.1 252.3L414.9 254.5L412.7 252.3ZM415.0 252.6L417.2 254.8L415.0 257.0L412.8 254.8ZM415.2 255.2L417.4 257.4L415.2 259.6L413.0 257.4ZM415.3 257.7L417.5 259.9L415.3 262.1L413.1 259.9ZM415.5 260.3L417.7 262.5L415.5 264.7L413.3 262.5ZM415.7 262.9L417.9 265.1L415.7 267.3L413.5 265.1ZM415.8 265.4L418.0 267.6L415.8 269.8L413.6 267.6ZM416.0 268.0L418.2 270.2L416.0 272.4L413.8 270.2ZM416.1 270.5L418.3 272.7L416.1 274.9L413.9 272.7ZM416.3 273.1L418.5 275.3L416.3 277.5L414.1 275.3ZM416.5 275.6L418.7 277.8L416.5 280.0L414.3 277.8Z" fill="#10f0a8"/>
<polyline points="423.7,262.9 425.3,280.5" fill="none" stroke="#10f0a8" stroke-width="3.0" stroke-linejoin="round" stroke-linecap="round"/>
<path d="M423.7 259.7L425.9 261.9L423.7 264.1L421.5 261.9ZM424.0 262.5L426.2 264.7L424.0 266.9L421.8 264.7ZM424.2 265.3L426.4 267.5L424.2 269.7L422.0 267.5ZM424.4 268.1L426.6 270.3L424.4 272.5L422.2 270.3ZM424.6 270.9L426.8 273.1L424.6 275.3L422.4 273.1ZM424.9 273.7L427.1 275.9L424.9 278.1L422.7 275.9ZM425.1 276.5L427.3 278.7L425.1 280.9L422.9 278.7ZM425.3 279.3L427.5 281.5L425.3 283.7L423.1 281.5Z" fill="#10f0a8"/>
<polyline points="431.7,258.5 433.3,282.7" fill="none" stroke="#10f0a8" stroke-width="3.0" stroke-linejoin="round" stroke-linecap="round"/>
<path d="M431.7 255.3L433.9 257.5L431.7 259.7L429.5 257.5ZM431.8 257.9L434.0 260.1L431.8 262.3L429.6 260.1ZM432.0 260.6L434.2 262.8L432.0 265.0L429.8 262.8ZM432.2 263.2L434.4 265.4L432.2 267.6L430.0 265.4ZM432.3 265.8L434.5 268.0L432.3 270.2L430.1 268.0ZM432.5 268.4L434.7 270.6L432.5 272.8L430.3 270.6ZM432.6 271.0L434.8 273.2L432.6 275.4L430.4 273.2ZM432.8 273.7L435.0 275.9L432.8 278.1L430.6 275.9ZM433.0 276.3L435.2 278.5L433.0 280.7L430.8 278.5ZM433.1 278.9L435.3 281.1L433.1 283.3L430.9 281.1ZM433.3 281.5L435.5 283.7L433.3 285.9L431.1 283.7Z" fill="#10f0a8"/>
<polyline points="438.6,259.1 440.2,281.0" fill="none" stroke="#10f0a8" stroke-width="3.0" stroke-linejoin="round" stroke-linecap="round"/>
<path d="M438.6 255.9L440.8 258.1L438.6 260.3L436.4 258.1ZM438.8 258.5L441.0 260.7L438.8 262.9L436.6 260.7ZM438.9 261.2L441.1 263.4L438.9 265.6L436.7 263.4ZM439.1 263.9L441.3 266.1L439.1 268.3L436.9 266.1ZM439.3 266.5L441.5 268.7L439.3 270.9L437.1 268.7ZM439.5 269.2L441.7 271.4L439.5 273.6L437.3 271.4ZM439.6 271.8L441.8 274.0L439.6 276.2L437.4 274.0ZM439.8 274.5L442.0 276.7L439.8 278.9L437.6 276.7ZM440.0 277.2L442.2 279.4L440.0 281.6L437.8 279.4ZM440.2 279.8L442.4 282.0L440.2 284.2L438.0 282.0Z" fill="#10f0a8"/>
<polyline points="447.1,254.8 448.7,277.5" fill="none" stroke="#10f0a8" stroke-width="3.0" stroke-linejoin="round" stroke-linecap="round"/>
<path d="M447.1 251.6L449.3 253.8L447.1 256.0L444.9 253.8ZM447.2 254.4L449.4 256.6L447.2 258.8L445.0 256.6ZM447.4 257.1L449.6 259.3L447.4 261.5L445.2 259.3ZM447.6 259.8L449.8 262.0L447.6 264.2L445.4 262.0ZM447.8 262.6L450.0 264.8L447.8 267.0L445.6 264.8ZM448.0 265.3L450.2 267.5L448.0 269.7L445.8 267.5ZM448.1 268.1L450.3 270.3L448.1 272.5L445.9 270.3ZM448.3 270.8L450.5 273.0L448.3 275.2L446.1 273.0ZM448.5 273.6L450.7 275.8L448.5 278.0L446.3 275.8ZM448.7 276.3L450.9 278.5L448.7 280.7L446.5 278.5Z" fill="#10f0a8"/>
<polyline points="454.5,262.3 456.1,279.1" fill="none" stroke="#10f0a8" stroke-width="3.0" stroke-linejoin="round" stroke-linecap="round"/>
<path d="M454.5 259.1L456.7 261.3L454.5 263.5L452.3 261.3ZM454.7 261.8L456.9 264.0L454.7 266.2L452.5 264.0ZM454.9 264.5L457.1 266.7L454.9 268.9L452.7 266.7ZM455.1 267.1L457.3 269.3L455.1 271.5L452.9 269.3ZM455.4 269.8L457.6 272.0L455.4 274.2L453.2 272.0ZM455.6 272.5L457.8 274.7L455.6 276.9L453.4 274.7ZM455.8 275.2L458.0 277.4L455.8 279.6L453.6 277.4ZM456.1 277.9L458.3 280.1L456.1 282.3L453.9 280.1Z" fill="#10f0a8"/>
<polyline points="462.8,256.1 464.4,276.9" fill="none" stroke="#10f0a8" stroke-width="3.0" stroke-linejoin="round" stroke-linecap="round"/>
<path d="M462.8 252.9L465.0 255.1L462.8 257.3L460.6 255.1ZM463.0 255.4L465.2 257.6L463.0 259.8L460.8 257.6ZM463.2 257.9L465.4 260.1L463.2 262.3L461.0 260.1ZM463.4 260.5L465.6 262.7L463.4 264.9L461.2 262.7ZM463.6 263.0L465.8 265.2L463.6 267.4L461.4 265.2ZM463.7 265.6L465.9 267.8L463.7 270.0L461.5 267.8ZM463.9 268.1L466.1 270.3L463.9 272.5L461.7 270.3ZM464.1 270.6L466.3 272.8L464.1 275.0L461.9 272.8ZM464.3 273.2L466.5 275.4L464.3 277.6L462.1 275.4ZM464.4 275.7L466.6 277.9L464.4 280.1L462.2 277.9Z" fill="#10f0a8"/>
<polyline points="469.1,261.1 470.7,283.0" fill="none" stroke="#10f0a8" stroke-width="3.0" stroke-linejoin="round" stroke-linecap="round"/>
<path d="M469.1 257.9L471.3 260.1L469.1 262.3L466.9 260.1ZM469.3 260.6L471.5 262.8L469.3 265.0L467.1 262.8ZM469.5 263.2L471.7 265.4L469.5 267.6L467.3 265.4ZM469.6 265.9L471.8 268.1L469.6 270.3L467.4 268.1ZM469.8 268.5L472.0 270.7L469.8 272.9L467.6 270.7ZM470.0 271.2L472.2 273.4L470.0 275.6L467.8 273.4ZM470.2 273.8L472.4 276.0L470.2 278.2L468.0 276.0ZM470.4 276.5L472.6 278.7L470.4 280.9L468.2 278.7ZM470.5 279.1L472.7 281.3L470.5 283.5L468.3 281.3ZM470.7 281.8L472.9 284.0L470.7 286.2L468.5 284.0Z" fill="#10f0a8"/>
<polyline points="476.6,259.8 478.2,282.1" fill="none" stroke="#10f0a8" stroke-width="3.0" stroke-linejoin="round" stroke-linecap="round"/>
<path d="M476.6 256.6L478.8 258.8L476.6 261.0L474.4 258.8ZM476.8 259.3L479.0 261.5L476.8 263.7L474.6 261.5ZM477.0 262.0L479.2 264.2L477.0 266.4L474.8 264.2ZM477.1 264.7L479.3 266.9L477.1 269.1L474.9 266.9ZM477.3 267.4L479.5 269.6L477.3 271.8L475.1 269.6ZM477.5 270.1L479.7 272.3L477.5 274.5L475.3 272.3ZM477.7 272.8L479.9 275.0L477.7 277.2L475.5 275.0ZM477.9 275.5L480.1 277.7L477.9 279.9L475.7 277.7ZM478.0 278.2L480.2 280.4L478.0 282.6L475.8 280.4ZM478.2 280.9L480.4 283.1L478.2 285.3L476.0 283.1Z" fill="#10f0a8"/>
<polyline points="486.2,262.6 487.8,279.7" fill="none" stroke="#10f0a8" stroke-width="3.0" stroke-linejoin="round" stroke-linecap="round"/>
<path d="M486.2 259.4L488.4 261.6L486.2 263.8L484.0 261.6ZM486.4 262.1L488.6 264.3L486.4 266.5L484.2 264.3ZM486.7 264.8L488.9 267.0L486.7 269.2L484.5 267.0ZM486.9 267.6L489.1 269.8L486.9 272.0L484.7 269.8ZM487.1 270.3L489.3 272.5L487.1 274.7L484.9 272.5ZM487.3 273.0L489.5 275.2L487.3 277.4L485.1 275.2ZM487.6 275.7L489.8 277.9L487.6 280.1L485.4 277.9ZM487.8 278.5L490.0 280.7L487.8 282.9L485.6 280.7Z" fill="#10f0a8"/>
<polyline points="496.2,262.6 497.8,281.3" fill="none" stroke="#10f0a8" stroke-width="3.0" stroke-linejoin="round" stroke-linecap="round"/>
<path d="M496.2 259.4L498.4 261.6L496.2 263.8L494.0 261.6ZM496.4 262.0L498.6 264.2L496.4 266.4L494.2 264.2ZM496.6 264.6L498.8 266.8L496.6 269.0L494.4 266.8ZM496.8 267.2L499.0 269.4L496.8 271.6L494.6 269.4ZM497.0 269.8L499.2 272.0L497.0 274.2L494.8 272.0ZM497.2 272.4L499.4 274.6L497.2 276.8L495.0 274.6ZM497.4 274.9L499.6 277.1L497.4 279.3L495.2 277.1ZM497.6 277.5L499.8 279.7L497.6 281.9L495.4 279.7ZM497.8 280.1L500.0 282.3L497.8 284.5L495.6 282.3Z" fill="#10f0a8"/>
<polyline points="505.7,257.9 507.3,279.4" fill="none" stroke="#10f0a8" stroke-width="3.0" stroke-linejoin="round" stroke-linecap="round"/>
<path d="M505.7 254.7L507.9 256.9L505.7 259.1L503.5 256.9ZM505.9 257.3L508.1 259.5L505.9 261.7L503.7 259.5ZM506.1 259.9L508.3 262.1L506.1 264.3L503.9 262.1ZM506.2 262.5L508.4 264.7L506.2 266.9L504.0 264.7ZM506.4 265.1L508.6 267.3L506.4 269.5L504.2 267.3ZM506.6 267.7L508.8 269.9L506.6 272.1L504.4 269.9ZM506.8 270.4L509.0 272.6L506.8 274.8L504.6 272.6ZM506.9 273.0L509.1 275.2L506.9 277.4L504.7 275.2ZM507.1 275.6L509.3 277.8L507.1 280.0L504.9 277.8ZM507.3 278.2L509.5 280.4L507.3 282.6L505.1 280.4Z" fill="#10f0a8"/>
<polyline points="512.7,261.8 514.3,277.5" fill="none" stroke="#10f0a8" stroke-width="3.0" stroke-linejoin="round" stroke-linecap="round"/>
<path d="M512.7 258.6L514.9 260.8L512.7 263.0L510.5 260.8ZM512.9 261.1L515.1 263.3L512.9 265.5L510.7 263.3ZM513.1 263.6L515.3 265.8L513.1 268.0L510.9 265.8ZM513.4 266.1L515.6 268.3L513.4 270.5L511.2 268.3ZM513.6 268.7L515.8 270.9L513.6 273.1L511.4 270.9ZM513.8 271.2L516.0 273.4L513.8 275.6L511.6 273.4ZM514.1 273.7L516.3 275.9L514.1 278.1L511.9 275.9ZM514.3 276.3L516.5 278.5L514.3 280.7L512.1 278.5Z" fill="#10f0a8"/>
<polyline points="519.0,261.1 520.6,283.0" fill="none" stroke="#10f0a8" stroke-width="3.0" stroke-linejoin="round" stroke-linecap="round"/>
<path d="M519.0 257.9L521.2 260.1L519.0 262.3L516.8 260.1ZM519.1 260.5L521.3 262.7L519.1 264.9L516.9 262.7ZM519.3 263.2L521.5 265.4L519.3 267.6L517.1 265.4ZM519.5 265.8L521.7 268.0L519.5 270.2L517.3 268.0ZM519.7 268.5L521.9 270.7L519.7 272.9L517.5 270.7ZM519.9 271.1L522.1 273.3L519.9 275.5L517.7 273.3ZM520.0 273.8L522.2 276.0L520.0 278.2L517.8 276.0ZM520.2 276.5L522.4 278.7L520.2 280.9L518.0 278.7ZM520.4 279.1L522.6 281.3L520.4 283.5L518.2 281.3ZM520.6 281.8L522.8 284.0L520.6 286.2L518.4 284.0Z" fill="#10f0a8"/>
<polyline points="526.9,261.4 528.5,276.5" fill="none" stroke="#10f0a8" stroke-width="3.0" stroke-linejoin="round" stroke-linecap="round"/>
<path d="M526.9 258.2L529.1 260.4L526.9 262.6L524.7 260.4ZM527.2 261.0L529.4 263.2L527.2 265.4L525.0 263.2ZM527.4 263.9L529.6 266.1L527.4 268.3L525.2 266.1ZM527.7 266.7L529.9 268.9L527.7 271.1L525.5 268.9ZM528.0 269.6L530.2 271.8L528.0 274.0L525.8 271.8ZM528.2 272.4L530.4 274.6L528.2 276.8L526.0 274.6ZM528.5 275.3L530.7 277.5L528.5 279.7L526.3 277.5Z" fill="#10f0a8"/>
<polyline points="533.9,255.9 535.5,279.8" fill="none" stroke="#10f0a8" stroke-width="3.0" stroke-linejoin="round" stroke-linecap="round"/>
<path d="M533.9 252.7L536.1 254.9L533.9 257.1L531.7 254.9ZM534.1 255.3L536.3 257.5L534.1 259.7L531.9 257.5ZM534.2 257.9L536.4 260.1L534.2 262.3L532.0 260.1ZM534.4 260.5L536.6 262.7L534.4 264.9L532.2 262.7ZM534.6 263.0L536.8 265.2L534.6 267.4L532.4 265.2ZM534.7 265.6L536.9 267.8L534.7 270.0L532.5 267.8ZM534.9 268.2L537.1 270.4L534.9 272.6L532.7 270.4ZM535.0 270.8L537.2 273.0L535.0 275.2L532.8 273.0ZM535.2 273.4L537.4 275.6L535.2 277.8L533.0 275.6ZM535.4 276.0L537.6 278.2L535.4 280.4L533.2 278.2ZM535.5 278.6L537.7 280.8L535.5 283.0L533.3 280.8Z" fill="#10f0a8"/>
<polyline points="540.6,253.7 542.2,279.0" fill="none" stroke="#10f0a8" stroke-width="3.0" stroke-linejoin="round" stroke-linecap="round"/>
<path d="M540.6 250.5L542.8 252.7L540.6 254.9L538.4 252.7ZM540.8 253.2L543.0 255.4L540.8 257.6L538.6 255.4ZM540.9 256.0L543.1 258.2L540.9 260.4L538.7 258.2ZM541.1 258.7L543.3 260.9L541.1 263.1L538.9 260.9ZM541.2 261.4L543.4 263.6L541.2 265.8L539.0 263.6ZM541.4 264.2L543.6 266.4L541.4 268.6L539.2 266.4ZM541.6 266.9L543.8 269.1L541.6 271.3L539.4 269.1ZM541.7 269.6L543.9 271.8L541.7 274.0L539.5 271.8ZM541.9 272.4L544.1 274.6L541.9 276.8L539.7 274.6ZM542.0 275.1L544.2 277.3L542.0 279.5L539.8 277.3ZM542.2 277.8L544.4 280.0L542.2 282.2L540.0 280.0Z" fill="#10f0a8"/>
<polyline points="244.7,262.0 248.5,277.4 252.4,261.7 255.6,274.7 258.7,263.9 261.7,276.7 264.8,262.2 268.2,278.2 271.8,261.1 275.0,274.7 279.0,264.2 283.0,278.1 286.8,264.8 290.7,275.3 294.7,262.9 298.6,276.8 302.0,262.5 305.4,275.6 308.3,264.3 312.2,278.9 316.0,263.2 319.9,274.7 323.6,262.8 326.7,275.0 330.2,262.0 333.6,277.0 337.0,261.5 340.5,275.2 343.6,261.8 346.9,274.4 350.6,264.8 354.0,277.6 358.1,261.2 361.1,278.0 365.0,263.6 368.1,276.1 372.1,264.5 376.0,275.0 380.0,262.5 383.8,274.7 388.0,263.4 391.8,275.1 395.4,263.3 399.1,275.8 402.9,262.4 406.1,274.8 409.9,261.4 413.0,274.3 416.7,263.2 420.2,274.2 423.7,262.4 426.6,274.0 430.8,261.5 434.0,275.3 437.6,261.3 441.1,275.8 445.1,261.0 448.3,276.5 452.5,263.1 456.0,277.3 459.2,261.1 462.7,278.6 466.5,262.0 470.3,278.2 473.4,263.4 476.7,275.2 479.9,261.8 483.2,274.2 486.6,261.3 490.4,277.0 493.2,264.1 496.3,276.4 499.9,262.3 503.1,276.2 506.1,264.5 509.0,278.1 512.1,262.2 515.5,274.2 518.5,262.4 521.9,278.4 526.1,261.2 529.6,274.6 533.5,262.3 537.6,276.7 540.6,261.0 543.7,278.3" fill="none" stroke="#0cbfd2" stroke-width="4.5" stroke-linejoin="round" stroke-linecap="round"/>
<polyline points="386.6,249.0 388.6,294.6" fill="none" stroke="#0cbfd2" stroke-width="4.2" stroke-linejoin="round" stroke-linecap="round"/>
<polyline points="407.7,261.0 409.7,289.8" fill="none" stroke="#0cbfd2" stroke-width="4.2" stroke-linejoin="round" stroke-linecap="round"/>
<polyline points="312.5,262.0 314.5,281.0" fill="none" stroke="#0cbfd2" stroke-width="4.2" stroke-linejoin="round" stroke-linecap="round"/>
<polyline points="325.3,262.0 327.3,287.0" fill="none" stroke="#0cbfd2" stroke-width="4.2" stroke-linejoin="round" stroke-linecap="round"/>
<polyline points="489.0,262.0 491.0,287.4" fill="none" stroke="#0cbfd2" stroke-width="4.2" stroke-linejoin="round" stroke-linecap="round"/>
<polyline points="501.0,262.0 503.0,287.4" fill="none" stroke="#0cbfd2" stroke-width="4.2" stroke-linejoin="round" stroke-linecap="round"/>
</g></g>
<g opacity="0.3"><g shape-rendering="crispEdges">
<rect x="30" y="27" width="516" height="1" fill="#4d4d4d"/>
<rect x="32" y="28" width="512" height="1" fill="#a8a8a8"/>
<rect x="30" y="100" width="516" height="1" fill="#4d4d4d"/>
<rect x="32" y="101" width="514" height="1" fill="#a8a8a8"/>
<rect x="30" y="27" width="2" height="75" fill="#6a6a6a"/>
<rect x="544" y="27" width="1" height="75" fill="#4d4d4d"/>
<rect x="545" y="27" width="1" height="75" fill="#a8a8a8"/>
<rect x="30" y="129" width="516" height="1" fill="#4d4d4d"/>
<rect x="32" y="130" width="512" height="1" fill="#a8a8a8"/>
<rect x="30" y="198" width="516" height="1" fill="#4d4d4d"/>
<rect x="32" y="199" width="514" height="1" fill="#a8a8a8"/>
<rect x="30" y="129" width="2" height="71" fill="#6a6a6a"/>
<rect x="544" y="129" width="1" height="71" fill="#4d4d4d"/>
<rect x="545" y="129" width="1" height="71" fill="#a8a8a8"/>
<rect x="30" y="230" width="516" height="1" fill="#4d4d4d"/>
<rect x="32" y="231" width="512" height="1" fill="#a8a8a8"/>
<rect x="30" y="311" width="516" height="1" fill="#4d4d4d"/>
<rect x="32" y="312" width="514" height="1" fill="#a8a8a8"/>
<rect x="30" y="230" width="2" height="83" fill="#6a6a6a"/>
<rect x="544" y="230" width="1" height="83" fill="#4d4d4d"/>
<rect x="545" y="230" width="1" height="83" fill="#a8a8a8"/>
</g></g>
<text class="t" x="29" y="32.7" text-anchor="end">2</text>
<text class="t" x="29" y="69.2" text-anchor="end">0</text>
<text class="t" x="29" y="105.7" text-anchor="end">-2</text>
<text class="t" x="30.7" y="113.9" text-anchor="middle">1</text>
<text class="t" x="113.6" y="113.9" text-anchor="middle">6</text>
<text class="t" x="196.5" y="113.9" text-anchor="middle">11</text>
<text class="t" x="279.4" y="113.9" text-anchor="middle">16</text>
<text class="t" x="362.3" y="113.9" text-anchor="middle">21</text>
<text class="t" x="445.2" y="113.9" text-anchor="middle">26</text>
<text class="t" x="528.1" y="113.9" text-anchor="middle">31</text>
<text class="s" font-size="12" transform="translate(14.9 64.0) rotate(-90)" text-anchor="middle">Radial/m</text>
<text class="t" x="29" y="134.7" text-anchor="end">5</text>
<text class="t" x="29" y="169.2" text-anchor="end">0</text>
<text class="t" x="29" y="203.7" text-anchor="end">-5</text>
<text class="t" x="30.7" y="211.9" text-anchor="middle">1</text>
<text class="t" x="113.6" y="211.9" text-anchor="middle">6</text>
<text class="t" x="196.5" y="211.9" text-anchor="middle">11</text>
<text class="t" x="279.4" y="211.9" text-anchor="middle">16</text>
<text class="t" x="362.3" y="211.9" text-anchor="middle">21</text>
<text class="t" x="445.2" y="211.9" text-anchor="middle">26</text>
<text class="t" x="528.1" y="211.9" text-anchor="middle">31</text>
<text class="s" font-size="12" transform="translate(14.9 164.0) rotate(-90)" text-anchor="middle">Along/m</text>
<text class="t" x="29" y="235.7" text-anchor="end">1</text>
<text class="t" x="29" y="276.2" text-anchor="end">0</text>
<text class="t" x="29" y="316.7" text-anchor="end">-1</text>
<text class="t" x="30.7" y="324.9" text-anchor="middle">1</text>
<text class="t" x="113.6" y="324.9" text-anchor="middle">6</text>
<text class="t" x="196.5" y="324.9" text-anchor="middle">11</text>
<text class="t" x="279.4" y="324.9" text-anchor="middle">16</text>
<text class="t" x="362.3" y="324.9" text-anchor="middle">21</text>
<text class="t" x="445.2" y="324.9" text-anchor="middle">26</text>
<text class="t" x="528.1" y="324.9" text-anchor="middle">31</text>
<text class="s" font-size="12" transform="translate(14.9 271.0) rotate(-90)" text-anchor="middle">Cross/m</text>
<text class="m" x="260.8" y="338.6" font-size="12.5" textLength="51.8" lengthAdjust="spacingAndGlyphs">Time/Day</text>
<text class="s" x="287.5" y="18" font-size="12" text-anchor="middle">Residual of orbit discontinuities at day boundaries</text>
<rect x="460.5" y="5.5" width="85" height="17" fill="#fff" stroke="#3a3a3a" stroke-width="1.1"/>
<path d="M471.7 11.4 L474.1 13.8 L471.7 16.2 L469.3 13.8 Z" fill="#10f0a8"/>
<text class="t" x="483" y="18.8">J01</text>
<path d="M513.8 11.4 L516.2 13.8 L513.8 16.2 L511.4 13.8 Z" fill="#0cbfd2"/>
<text class="t" x="525" y="18.8">J02</text>
</svg>
</body></html>
